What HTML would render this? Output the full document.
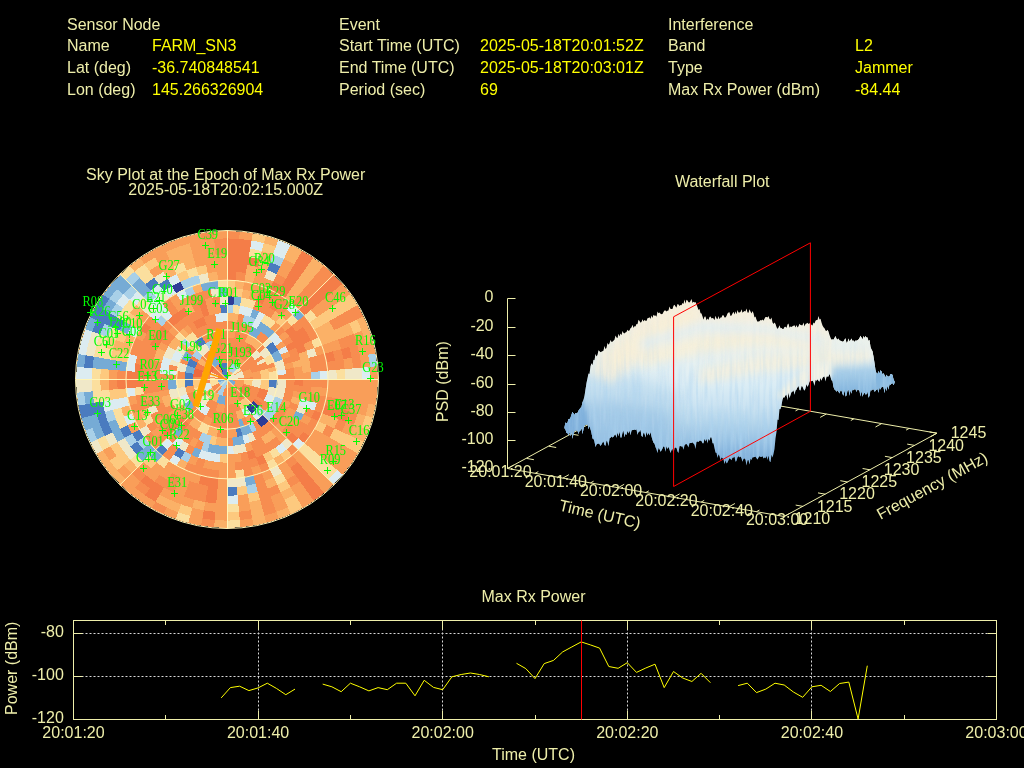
<!DOCTYPE html>
<html><head><meta charset="utf-8"><title>Interference Event</title>
<style>
html,body{margin:0;padding:0;background:#000;width:1024px;height:768px;overflow:hidden}
svg{display:block;position:absolute;left:0;top:0;will-change:transform}
text{font-family:"Liberation Sans",sans-serif;font-size:16px;fill:#eeeeaa}
.v{fill:#ffff00}
.s text{font-family:"Liberation Serif",serif;font-size:12.4px;fill:#00ff00}
</style></head><body>
<svg width="1024" height="768" viewBox="0 0 1024 768">
<rect width="1024" height="768" fill="#000"/>
<text x="67" y="30">Sensor Node</text>
<text x="67" y="51.3">Name</text>
<text x="67" y="72.8">Lat (deg)</text>
<text x="67" y="95.1">Lon (deg)</text>
<text x="152" y="51.3" class="v">FARM_SN3</text>
<text x="152" y="72.8" class="v">-36.740848541</text>
<text x="152" y="95.1" class="v">145.266326904</text>
<text x="339" y="30">Event</text>
<text x="339" y="51.3">Start Time (UTC)</text>
<text x="339" y="72.8">End Time (UTC)</text>
<text x="339" y="95.1">Period (sec)</text>
<text x="480" y="51.3" class="v">2025-05-18T20:01:52Z</text>
<text x="480" y="72.8" class="v">2025-05-18T20:03:01Z</text>
<text x="480" y="95.1" class="v">69</text>
<text x="668" y="30">Interference</text>
<text x="668" y="51.3">Band</text>
<text x="668" y="72.8">Type</text>
<text x="668" y="95.1">Max Rx Power (dBm)</text>
<text x="855" y="51.3" class="v">L2</text>
<text x="855" y="72.8" class="v">Jammer</text>
<text x="855" y="95.1" class="v">-84.44</text>
<text x="225.7" y="179.6" text-anchor="middle">Sky Plot at the Epoch of Max Rx Power</text>
<text x="225.7" y="194.6" text-anchor="middle">2025-05-18T20:02:15.000Z</text>
<text x="722.2" y="186.6" text-anchor="middle">Waterfall Plot</text>
<text x="533.5" y="601.5" text-anchor="middle">Max Rx Power</text>
<g transform="translate(227.0,379.5) scale(1.01678,1)" shape-rendering="crispEdges">
<circle r="148.4" fill="#f99e59"/>
<path d="M-0.31 -148.20 A148.20 148.20 0 0 1 13.23 -147.61 L12.56 -140.16 A140.72 140.72 0 0 0 -0.29 -140.72 Z" fill="#f78d50"/>
<path d="M12.61 -147.66 A148.20 148.20 0 0 1 26.04 -145.89 L24.73 -138.53 A140.72 140.72 0 0 0 11.97 -140.21 Z" fill="#f99e59"/>
<path d="M25.43 -146.00 A148.20 148.20 0 0 1 38.66 -143.07 L36.71 -135.85 A140.72 140.72 0 0 0 24.15 -138.64 Z" fill="#fdc97e"/>
<path d="M38.06 -143.23 A148.20 148.20 0 0 1 50.98 -139.16 L48.41 -132.13 A140.72 140.72 0 0 0 36.14 -136.00 Z" fill="#fbb167"/>
<path d="M50.40 -139.37 A148.20 148.20 0 0 1 62.91 -134.18 L59.74 -127.41 A140.72 140.72 0 0 0 47.85 -132.34 Z" fill="#dcecf1"/>
<path d="M62.35 -134.45 A148.20 148.20 0 0 1 74.37 -128.19 L70.62 -121.72 A140.72 140.72 0 0 0 59.20 -127.66 Z" fill="#fbb167"/>
<path d="M73.83 -128.50 A148.20 148.20 0 0 1 85.26 -121.22 L80.96 -115.10 A140.72 140.72 0 0 0 70.11 -122.02 Z" fill="#f47d48"/>
<path d="M84.75 -121.58 A148.20 148.20 0 0 1 95.50 -113.33 L90.68 -107.61 A140.72 140.72 0 0 0 80.47 -115.44 Z" fill="#fbb167"/>
<path d="M95.02 -113.73 A148.20 148.20 0 0 1 105.01 -104.57 L99.71 -99.30 A140.72 140.72 0 0 0 90.23 -107.99 Z" fill="#f78d50"/>
<path d="M104.57 -105.01 A148.20 148.20 0 0 1 113.73 -95.02 L107.99 -90.23 A140.72 140.72 0 0 0 99.30 -99.71 Z" fill="#f47d48"/>
<path d="M113.33 -95.50 A148.20 148.20 0 0 1 121.58 -84.75 L115.44 -80.47 A140.72 140.72 0 0 0 107.61 -90.68 Z" fill="#f99e59"/>
<path d="M121.22 -85.26 A148.20 148.20 0 0 1 128.50 -73.83 L122.02 -70.11 A140.72 140.72 0 0 0 115.10 -80.96 Z" fill="#fdc97e"/>
<path d="M128.19 -74.37 A148.20 148.20 0 0 1 134.45 -62.35 L127.66 -59.20 A140.72 140.72 0 0 0 121.72 -70.62 Z" fill="#f78d50"/>
<path d="M134.18 -62.91 A148.20 148.20 0 0 1 143.23 -38.06 L136.00 -36.14 A140.72 140.72 0 0 0 127.41 -59.74 Z" fill="#fbb167"/>
<path d="M143.07 -38.66 A148.20 148.20 0 0 1 146.00 -25.43 L138.64 -24.15 A140.72 140.72 0 0 0 135.85 -36.71 Z" fill="#f99e59"/>
<path d="M145.89 -26.04 A148.20 148.20 0 0 1 147.66 -12.61 L140.21 -11.97 A140.72 140.72 0 0 0 138.53 -24.73 Z" fill="#a8d0e8"/>
<path d="M147.61 -13.23 A148.20 148.20 0 0 1 145.89 26.04 L138.53 24.73 A140.72 140.72 0 0 0 140.16 -12.56 Z" fill="#f99e59"/>
<path d="M146.00 25.43 A148.20 148.20 0 0 1 143.07 38.66 L135.85 36.71 A140.72 140.72 0 0 0 138.64 24.15 Z" fill="#fbb167"/>
<path d="M143.23 38.06 A148.20 148.20 0 0 1 139.16 50.98 L132.13 48.41 A140.72 140.72 0 0 0 136.00 36.14 Z" fill="#fdc97e"/>
<path d="M139.37 50.40 A148.20 148.20 0 0 1 134.18 62.91 L127.41 59.74 A140.72 140.72 0 0 0 132.34 47.85 Z" fill="#fbb167"/>
<path d="M134.45 62.35 A148.20 148.20 0 0 1 128.19 74.37 L121.72 70.62 A140.72 140.72 0 0 0 127.66 59.20 Z" fill="#fdc97e"/>
<path d="M128.50 73.83 A148.20 148.20 0 0 1 113.33 95.50 L107.61 90.68 A140.72 140.72 0 0 0 122.02 70.11 Z" fill="#f99e59"/>
<path d="M113.73 95.02 A148.20 148.20 0 0 1 104.57 105.01 L99.30 99.71 A140.72 140.72 0 0 0 107.99 90.23 Z" fill="#dcecf1"/>
<path d="M105.01 104.57 A148.20 148.20 0 0 1 95.02 113.73 L90.23 107.99 A140.72 140.72 0 0 0 99.71 99.30 Z" fill="#f99e59"/>
<path d="M95.50 113.33 A148.20 148.20 0 0 1 84.75 121.58 L80.47 115.44 A140.72 140.72 0 0 0 90.68 107.61 Z" fill="#f47d48"/>
<path d="M85.26 121.22 A148.20 148.20 0 0 1 73.83 128.50 L70.11 122.02 A140.72 140.72 0 0 0 80.96 115.10 Z" fill="#f99e59"/>
<path d="M74.37 128.19 A148.20 148.20 0 0 1 62.35 134.45 L59.20 127.66 A140.72 140.72 0 0 0 70.62 121.72 Z" fill="#fdc97e"/>
<path d="M62.91 134.18 A148.20 148.20 0 0 1 50.40 139.37 L47.85 132.34 A140.72 140.72 0 0 0 59.74 127.41 Z" fill="#fbb167"/>
<path d="M50.98 139.16 A148.20 148.20 0 0 1 38.06 143.23 L36.14 136.00 A140.72 140.72 0 0 0 48.41 132.13 Z" fill="#f99e59"/>
<path d="M38.66 143.07 A148.20 148.20 0 0 1 25.43 146.00 L24.15 138.64 A140.72 140.72 0 0 0 36.71 135.85 Z" fill="#fbb167"/>
<path d="M26.04 145.89 A148.20 148.20 0 0 1 12.61 147.66 L11.97 140.21 A140.72 140.72 0 0 0 24.73 138.53 Z" fill="#f99e59"/>
<path d="M13.23 147.61 A148.20 148.20 0 0 1 -0.31 148.20 L-0.29 140.72 A140.72 140.72 0 0 0 12.56 140.16 Z" fill="#fbdf9e"/>
<path d="M0.31 148.20 A148.20 148.20 0 0 1 -13.23 147.61 L-12.56 140.16 A140.72 140.72 0 0 0 0.29 140.72 Z" fill="#fbb167"/>
<path d="M-12.61 147.66 A148.20 148.20 0 0 1 -26.04 145.89 L-24.73 138.53 A140.72 140.72 0 0 0 -11.97 140.21 Z" fill="#f78d50"/>
<path d="M-25.43 146.00 A148.20 148.20 0 0 1 -38.66 143.07 L-36.71 135.85 A140.72 140.72 0 0 0 -24.15 138.64 Z" fill="#f99e59"/>
<path d="M-38.06 143.23 A148.20 148.20 0 0 1 -50.98 139.16 L-48.41 132.13 A140.72 140.72 0 0 0 -36.14 136.00 Z" fill="#fbdf9e"/>
<path d="M-50.40 139.37 A148.20 148.20 0 0 1 -62.91 134.18 L-59.74 127.41 A140.72 140.72 0 0 0 -47.85 132.34 Z" fill="#f99e59"/>
<path d="M-62.35 134.45 A148.20 148.20 0 0 1 -74.37 128.19 L-70.62 121.72 A140.72 140.72 0 0 0 -59.20 127.66 Z" fill="#f78d50"/>
<path d="M-73.83 128.50 A148.20 148.20 0 0 1 -105.01 104.57 L-99.71 99.30 A140.72 140.72 0 0 0 -70.11 122.02 Z" fill="#f99e59"/>
<path d="M-104.57 105.01 A148.20 148.20 0 0 1 -128.50 73.83 L-122.02 70.11 A140.72 140.72 0 0 0 -99.30 99.71 Z" fill="#fbb167"/>
<path d="M-128.19 74.37 A148.20 148.20 0 0 1 -134.45 62.35 L-127.66 59.20 A140.72 140.72 0 0 0 -121.72 70.62 Z" fill="#f0e8c8"/>
<path d="M-134.18 62.91 A148.20 148.20 0 0 1 -139.37 50.40 L-132.34 47.85 A140.72 140.72 0 0 0 -127.41 59.74 Z" fill="#a8d0e8"/>
<path d="M-139.16 50.98 A148.20 148.20 0 0 1 -143.23 38.06 L-136.00 36.14 A140.72 140.72 0 0 0 -132.13 48.41 Z" fill="#76abd5"/>
<path d="M-143.07 38.66 A148.20 148.20 0 0 1 -146.00 25.43 L-138.64 24.15 A140.72 140.72 0 0 0 -135.85 36.71 Z" fill="#4a7bbf"/>
<path d="M-145.89 26.04 A148.20 148.20 0 0 1 -147.66 12.61 L-140.21 11.97 A140.72 140.72 0 0 0 -138.53 24.73 Z" fill="#a8d0e8"/>
<path d="M-147.61 13.23 A148.20 148.20 0 0 1 -148.20 -0.31 L-140.72 -0.29 A140.72 140.72 0 0 0 -140.16 12.56 Z" fill="#f0e8c8"/>
<path d="M-148.20 0.31 A148.20 148.20 0 0 1 -147.61 -13.23 L-140.16 -12.56 A140.72 140.72 0 0 0 -140.72 0.29 Z" fill="#dcecf1"/>
<path d="M-147.66 -12.61 A148.20 148.20 0 0 1 -145.89 -26.04 L-138.53 -24.73 A140.72 140.72 0 0 0 -140.21 -11.97 Z" fill="#76abd5"/>
<path d="M-146.00 -25.43 A148.20 148.20 0 0 1 -139.16 -50.98 L-132.13 -48.41 A140.72 140.72 0 0 0 -138.64 -24.15 Z" fill="#dcecf1"/>
<path d="M-139.37 -50.40 A148.20 148.20 0 0 1 -134.18 -62.91 L-127.41 -59.74 A140.72 140.72 0 0 0 -132.34 -47.85 Z" fill="#76abd5"/>
<path d="M-134.45 -62.35 A148.20 148.20 0 0 1 -121.22 -85.26 L-115.10 -80.96 A140.72 140.72 0 0 0 -127.66 -59.20 Z" fill="#4a7bbf"/>
<path d="M-121.58 -84.75 A148.20 148.20 0 0 1 -104.57 -105.01 L-99.30 -99.71 A140.72 140.72 0 0 0 -115.44 -80.47 Z" fill="#76abd5"/>
<path d="M-105.01 -104.57 A148.20 148.20 0 0 1 -95.02 -113.73 L-90.23 -107.99 A140.72 140.72 0 0 0 -99.71 -99.30 Z" fill="#fbdf9e"/>
<path d="M-95.50 -113.33 A148.20 148.20 0 0 1 -84.75 -121.58 L-80.47 -115.44 A140.72 140.72 0 0 0 -90.68 -107.61 Z" fill="#fbb167"/>
<path d="M-85.26 -121.22 A148.20 148.20 0 0 1 -25.43 -146.00 L-24.15 -138.64 A140.72 140.72 0 0 0 -80.96 -115.10 Z" fill="#f99e59"/>
<path d="M-26.04 -145.89 A148.20 148.20 0 0 1 -12.61 -147.66 L-11.97 -140.21 A140.72 140.72 0 0 0 -24.73 -138.53 Z" fill="#f78d50"/>
<path d="M-13.23 -147.61 A148.20 148.20 0 0 1 0.31 -148.20 L0.29 -140.72 A140.72 140.72 0 0 0 -12.56 -140.16 Z" fill="#f99e59"/>
<path d="M-0.30 -141.07 A141.07 141.07 0 0 1 24.79 -138.88 L23.27 -130.38 A132.44 132.44 0 0 0 -0.28 -132.44 Z" fill="#f47d48"/>
<path d="M24.21 -138.98 A141.07 141.07 0 0 1 36.80 -136.19 L34.55 -127.86 A132.44 132.44 0 0 0 22.73 -130.48 Z" fill="#dcecf1"/>
<path d="M36.23 -136.34 A141.07 141.07 0 0 1 48.53 -132.46 L45.56 -124.36 A132.44 132.44 0 0 0 34.01 -128.00 Z" fill="#fdc97e"/>
<path d="M47.97 -132.67 A141.07 141.07 0 0 1 59.89 -127.73 L56.22 -119.92 A132.44 132.44 0 0 0 45.04 -124.55 Z" fill="#dcecf1"/>
<path d="M59.35 -127.98 A141.07 141.07 0 0 1 70.79 -122.02 L66.46 -114.56 A132.44 132.44 0 0 0 55.72 -120.15 Z" fill="#fbb167"/>
<path d="M70.28 -122.32 A141.07 141.07 0 0 1 81.16 -115.39 L76.19 -108.33 A132.44 132.44 0 0 0 65.98 -114.84 Z" fill="#f47d48"/>
<path d="M80.67 -115.73 A141.07 141.07 0 0 1 90.91 -107.88 L85.35 -101.28 A132.44 132.44 0 0 0 75.74 -108.65 Z" fill="#fbb167"/>
<path d="M90.45 -108.26 A141.07 141.07 0 0 1 99.96 -99.54 L93.85 -93.46 A132.44 132.44 0 0 0 84.92 -101.64 Z" fill="#f78d50"/>
<path d="M99.54 -99.96 A141.07 141.07 0 0 1 108.26 -90.45 L101.64 -84.92 A132.44 132.44 0 0 0 93.46 -93.85 Z" fill="#f47d48"/>
<path d="M107.88 -90.91 A141.07 141.07 0 0 1 115.73 -80.67 L108.65 -75.74 A132.44 132.44 0 0 0 101.28 -85.35 Z" fill="#f99e59"/>
<path d="M115.39 -81.16 A141.07 141.07 0 0 1 122.32 -70.28 L114.84 -65.98 A132.44 132.44 0 0 0 108.33 -76.19 Z" fill="#fdc97e"/>
<path d="M122.02 -70.79 A141.07 141.07 0 0 1 127.98 -59.35 L120.15 -55.72 A132.44 132.44 0 0 0 114.56 -66.46 Z" fill="#f78d50"/>
<path d="M127.73 -59.89 A141.07 141.07 0 0 1 132.67 -47.97 L124.55 -45.04 A132.44 132.44 0 0 0 119.92 -56.22 Z" fill="#fdc97e"/>
<path d="M132.46 -48.53 A141.07 141.07 0 0 1 140.56 -12.00 L131.96 -11.27 A132.44 132.44 0 0 0 124.36 -45.56 Z" fill="#f99e59"/>
<path d="M140.51 -12.59 A141.07 141.07 0 0 1 141.07 0.30 L132.44 0.28 A132.44 132.44 0 0 0 131.92 -11.82 Z" fill="#dcecf1"/>
<path d="M141.07 -0.30 A141.07 141.07 0 0 1 136.19 36.80 L127.86 34.55 A132.44 132.44 0 0 0 132.44 -0.28 Z" fill="#f99e59"/>
<path d="M136.34 36.23 A141.07 141.07 0 0 1 127.73 59.89 L119.92 56.22 A132.44 132.44 0 0 0 128.00 34.01 Z" fill="#fbb167"/>
<path d="M127.98 59.35 A141.07 141.07 0 0 1 122.02 70.79 L114.56 66.46 A132.44 132.44 0 0 0 120.15 55.72 Z" fill="#fdc97e"/>
<path d="M122.32 70.28 A141.07 141.07 0 0 1 107.88 90.91 L101.28 85.35 A132.44 132.44 0 0 0 114.84 65.98 Z" fill="#f99e59"/>
<path d="M108.26 90.45 A141.07 141.07 0 0 1 99.54 99.96 L93.46 93.85 A132.44 132.44 0 0 0 101.64 84.92 Z" fill="#fbdf9e"/>
<path d="M99.96 99.54 A141.07 141.07 0 0 1 90.45 108.26 L84.92 101.64 A132.44 132.44 0 0 0 93.85 93.46 Z" fill="#f99e59"/>
<path d="M90.91 107.88 A141.07 141.07 0 0 1 80.67 115.73 L75.74 108.65 A132.44 132.44 0 0 0 85.35 101.28 Z" fill="#f47d48"/>
<path d="M81.16 115.39 A141.07 141.07 0 0 1 70.28 122.32 L65.98 114.84 A132.44 132.44 0 0 0 76.19 108.33 Z" fill="#f99e59"/>
<path d="M70.79 122.02 A141.07 141.07 0 0 1 59.35 127.98 L55.72 120.15 A132.44 132.44 0 0 0 66.46 114.56 Z" fill="#fdc97e"/>
<path d="M59.89 127.73 A141.07 141.07 0 0 1 47.97 132.67 L45.04 124.55 A132.44 132.44 0 0 0 56.22 119.92 Z" fill="#f99e59"/>
<path d="M48.53 132.46 A141.07 141.07 0 0 1 36.23 136.34 L34.01 128.00 A132.44 132.44 0 0 0 45.56 124.36 Z" fill="#f78d50"/>
<path d="M36.80 136.19 A141.07 141.07 0 0 1 24.21 138.98 L22.73 130.48 A132.44 132.44 0 0 0 34.55 127.86 Z" fill="#fbb167"/>
<path d="M24.79 138.88 A141.07 141.07 0 0 1 12.00 140.56 L11.27 131.96 A132.44 132.44 0 0 0 23.27 130.38 Z" fill="#f78d50"/>
<path d="M12.59 140.51 A141.07 141.07 0 0 1 -0.30 141.07 L-0.28 132.44 A132.44 132.44 0 0 0 11.82 131.92 Z" fill="#fdc97e"/>
<path d="M0.30 141.07 A141.07 141.07 0 0 1 -12.59 140.51 L-11.82 131.92 A132.44 132.44 0 0 0 0.28 132.44 Z" fill="#f99e59"/>
<path d="M-12.00 140.56 A141.07 141.07 0 0 1 -24.79 138.88 L-23.27 130.38 A132.44 132.44 0 0 0 -11.27 131.96 Z" fill="#f47d48"/>
<path d="M-24.21 138.98 A141.07 141.07 0 0 1 -36.80 136.19 L-34.55 127.86 A132.44 132.44 0 0 0 -22.73 130.48 Z" fill="#f99e59"/>
<path d="M-36.23 136.34 A141.07 141.07 0 0 1 -48.53 132.46 L-45.56 124.36 A132.44 132.44 0 0 0 -34.01 128.00 Z" fill="#fdc97e"/>
<path d="M-47.97 132.67 A141.07 141.07 0 0 1 -70.79 122.02 L-66.46 114.56 A132.44 132.44 0 0 0 -45.04 124.55 Z" fill="#fbb167"/>
<path d="M-70.28 122.32 A141.07 141.07 0 0 1 -81.16 115.39 L-76.19 108.33 A132.44 132.44 0 0 0 -65.98 114.84 Z" fill="#f47d48"/>
<path d="M-80.67 115.73 A141.07 141.07 0 0 1 -90.91 107.88 L-85.35 101.28 A132.44 132.44 0 0 0 -75.74 108.65 Z" fill="#f78d50"/>
<path d="M-90.45 108.26 A141.07 141.07 0 0 1 -108.26 90.45 L-101.64 84.92 A132.44 132.44 0 0 0 -84.92 101.64 Z" fill="#f99e59"/>
<path d="M-107.88 90.91 A141.07 141.07 0 0 1 -115.73 80.67 L-108.65 75.74 A132.44 132.44 0 0 0 -101.28 85.35 Z" fill="#fdc97e"/>
<path d="M-115.39 81.16 A141.07 141.07 0 0 1 -122.32 70.28 L-114.84 65.98 A132.44 132.44 0 0 0 -108.33 76.19 Z" fill="#f99e59"/>
<path d="M-122.02 70.79 A141.07 141.07 0 0 1 -127.98 59.35 L-120.15 55.72 A132.44 132.44 0 0 0 -114.56 66.46 Z" fill="#fbdf9e"/>
<path d="M-127.73 59.89 A141.07 141.07 0 0 1 -136.34 36.23 L-128.00 34.01 A132.44 132.44 0 0 0 -119.92 56.22 Z" fill="#76abd5"/>
<path d="M-136.19 36.80 A141.07 141.07 0 0 1 -138.98 24.21 L-130.48 22.73 A132.44 132.44 0 0 0 -127.86 34.55 Z" fill="#4a7bbf"/>
<path d="M-138.88 24.79 A141.07 141.07 0 0 1 -140.56 12.00 L-131.96 11.27 A132.44 132.44 0 0 0 -130.38 23.27 Z" fill="#76abd5"/>
<path d="M-140.51 12.59 A141.07 141.07 0 0 1 -141.07 -0.30 L-132.44 -0.28 A132.44 132.44 0 0 0 -131.92 11.82 Z" fill="#f0e8c8"/>
<path d="M-141.07 0.30 A141.07 141.07 0 0 1 -140.51 -12.59 L-131.92 -11.82 A132.44 132.44 0 0 0 -132.44 0.28 Z" fill="#dcecf1"/>
<path d="M-140.56 -12.00 A141.07 141.07 0 0 1 -138.88 -24.79 L-130.38 -23.27 A132.44 132.44 0 0 0 -131.96 -11.27 Z" fill="#4a7bbf"/>
<path d="M-138.98 -24.21 A141.07 141.07 0 0 1 -132.46 -48.53 L-124.36 -45.56 A132.44 132.44 0 0 0 -130.48 -22.73 Z" fill="#f0e8c8"/>
<path d="M-132.67 -47.97 A141.07 141.07 0 0 1 -122.02 -70.79 L-114.56 -66.46 A132.44 132.44 0 0 0 -124.55 -45.04 Z" fill="#4a7bbf"/>
<path d="M-122.32 -70.28 A141.07 141.07 0 0 1 -115.39 -81.16 L-108.33 -76.19 A132.44 132.44 0 0 0 -114.84 -65.98 Z" fill="#76abd5"/>
<path d="M-115.73 -80.67 A141.07 141.07 0 0 1 -107.88 -90.91 L-101.28 -85.35 A132.44 132.44 0 0 0 -108.65 -75.74 Z" fill="#a8d0e8"/>
<path d="M-108.26 -90.45 A141.07 141.07 0 0 1 -99.54 -99.96 L-93.46 -93.85 A132.44 132.44 0 0 0 -101.64 -84.92 Z" fill="#76abd5"/>
<path d="M-99.96 -99.54 A141.07 141.07 0 0 1 -90.45 -108.26 L-84.92 -101.64 A132.44 132.44 0 0 0 -93.85 -93.46 Z" fill="#a8d0e8"/>
<path d="M-90.91 -107.88 A141.07 141.07 0 0 1 -80.67 -115.73 L-75.74 -108.65 A132.44 132.44 0 0 0 -85.35 -101.28 Z" fill="#fbdf9e"/>
<path d="M-81.16 -115.39 A141.07 141.07 0 0 1 -70.28 -122.32 L-65.98 -114.84 A132.44 132.44 0 0 0 -76.19 -108.33 Z" fill="#fdc97e"/>
<path d="M-70.79 -122.02 A141.07 141.07 0 0 1 -59.35 -127.98 L-55.72 -120.15 A132.44 132.44 0 0 0 -66.46 -114.56 Z" fill="#f99e59"/>
<path d="M-59.89 -127.73 A141.07 141.07 0 0 1 -36.23 -136.34 L-34.01 -128.00 A132.44 132.44 0 0 0 -56.22 -119.92 Z" fill="#fbb167"/>
<path d="M-36.80 -136.19 A141.07 141.07 0 0 1 -12.00 -140.56 L-11.27 -131.96 A132.44 132.44 0 0 0 -34.55 -127.86 Z" fill="#f99e59"/>
<path d="M-12.59 -140.51 A141.07 141.07 0 0 1 0.30 -141.07 L0.28 -132.44 A132.44 132.44 0 0 0 -11.82 -131.92 Z" fill="#f78d50"/>
<path d="M-0.28 -132.79 A132.79 132.79 0 0 1 23.33 -130.73 L21.82 -122.23 A124.17 124.17 0 0 0 -0.26 -124.17 Z" fill="#f47d48"/>
<path d="M22.79 -130.83 A132.79 132.79 0 0 1 34.64 -128.20 L32.39 -119.87 A124.17 124.17 0 0 0 21.31 -122.33 Z" fill="#fbdf9e"/>
<path d="M34.10 -128.34 A132.79 132.79 0 0 1 45.68 -124.69 L42.71 -116.59 A124.17 124.17 0 0 0 31.89 -120.00 Z" fill="#fbb167"/>
<path d="M45.16 -124.88 A132.79 132.79 0 0 1 56.37 -120.23 L52.71 -112.42 A124.17 124.17 0 0 0 42.22 -116.77 Z" fill="#a8d0e8"/>
<path d="M55.87 -120.47 A132.79 132.79 0 0 1 66.64 -114.86 L62.31 -107.40 A124.17 124.17 0 0 0 52.24 -112.64 Z" fill="#f99e59"/>
<path d="M66.16 -115.14 A132.79 132.79 0 0 1 76.40 -108.62 L71.43 -101.56 A124.17 124.17 0 0 0 61.86 -107.66 Z" fill="#f47d48"/>
<path d="M75.94 -108.94 A132.79 132.79 0 0 1 85.57 -101.55 L80.01 -94.95 A124.17 124.17 0 0 0 71.01 -101.86 Z" fill="#fbb167"/>
<path d="M85.15 -101.90 A132.79 132.79 0 0 1 94.10 -93.70 L87.98 -87.62 A124.17 124.17 0 0 0 79.61 -95.28 Z" fill="#f78d50"/>
<path d="M93.70 -94.10 A132.79 132.79 0 0 1 101.90 -85.15 L95.28 -79.61 A124.17 124.17 0 0 0 87.62 -87.98 Z" fill="#f47d48"/>
<path d="M101.55 -85.57 A132.79 132.79 0 0 1 108.94 -75.94 L101.86 -71.01 A124.17 124.17 0 0 0 94.95 -80.01 Z" fill="#f99e59"/>
<path d="M108.62 -76.40 A132.79 132.79 0 0 1 115.14 -66.16 L107.66 -61.86 A124.17 124.17 0 0 0 101.56 -71.43 Z" fill="#fdc97e"/>
<path d="M114.86 -66.64 A132.79 132.79 0 0 1 120.47 -55.87 L112.64 -52.24 A124.17 124.17 0 0 0 107.40 -62.31 Z" fill="#f78d50"/>
<path d="M120.23 -56.37 A132.79 132.79 0 0 1 124.88 -45.16 L116.77 -42.22 A124.17 124.17 0 0 0 112.42 -52.71 Z" fill="#fbb167"/>
<path d="M124.69 -45.68 A132.79 132.79 0 0 1 132.31 -11.30 L123.72 -10.56 A124.17 124.17 0 0 0 116.59 -42.71 Z" fill="#f78d50"/>
<path d="M132.26 -11.85 A132.79 132.79 0 0 1 132.79 0.28 L124.17 0.26 A124.17 124.17 0 0 0 123.67 -11.08 Z" fill="#f0e8c8"/>
<path d="M132.79 -0.28 A132.79 132.79 0 0 1 128.20 34.64 L119.87 32.39 A124.17 124.17 0 0 0 124.17 -0.26 Z" fill="#f99e59"/>
<path d="M128.34 34.10 A132.79 132.79 0 0 1 124.69 45.68 L116.59 42.71 A124.17 124.17 0 0 0 120.00 31.89 Z" fill="#f78d50"/>
<path d="M124.88 45.16 A132.79 132.79 0 0 1 120.23 56.37 L112.42 52.71 A124.17 124.17 0 0 0 116.77 42.22 Z" fill="#f99e59"/>
<path d="M120.47 55.87 A132.79 132.79 0 0 1 114.86 66.64 L107.40 62.31 A124.17 124.17 0 0 0 112.64 52.24 Z" fill="#fdc97e"/>
<path d="M115.14 66.16 A132.79 132.79 0 0 1 101.55 85.57 L94.95 80.01 A124.17 124.17 0 0 0 107.66 61.86 Z" fill="#f99e59"/>
<path d="M101.90 85.15 A132.79 132.79 0 0 1 93.70 94.10 L87.62 87.98 A124.17 124.17 0 0 0 95.28 79.61 Z" fill="#fbdf9e"/>
<path d="M94.10 93.70 A132.79 132.79 0 0 1 85.15 101.90 L79.61 95.28 A124.17 124.17 0 0 0 87.98 87.62 Z" fill="#f99e59"/>
<path d="M85.57 101.55 A132.79 132.79 0 0 1 75.94 108.94 L71.01 101.86 A124.17 124.17 0 0 0 80.01 94.95 Z" fill="#f47d48"/>
<path d="M76.40 108.62 A132.79 132.79 0 0 1 66.16 115.14 L61.86 107.66 A124.17 124.17 0 0 0 71.43 101.56 Z" fill="#f99e59"/>
<path d="M66.64 114.86 A132.79 132.79 0 0 1 55.87 120.47 L52.24 112.64 A124.17 124.17 0 0 0 62.31 107.40 Z" fill="#fbb167"/>
<path d="M56.37 120.23 A132.79 132.79 0 0 1 45.16 124.88 L42.22 116.77 A124.17 124.17 0 0 0 52.71 112.42 Z" fill="#f99e59"/>
<path d="M45.68 124.69 A132.79 132.79 0 0 1 34.10 128.34 L31.89 120.00 A124.17 124.17 0 0 0 42.71 116.59 Z" fill="#f78d50"/>
<path d="M34.64 128.20 A132.79 132.79 0 0 1 22.79 130.83 L21.31 122.33 A124.17 124.17 0 0 0 32.39 119.87 Z" fill="#fbb167"/>
<path d="M23.33 130.73 A132.79 132.79 0 0 1 11.30 132.31 L10.56 123.72 A124.17 124.17 0 0 0 21.82 122.23 Z" fill="#f99e59"/>
<path d="M11.85 132.26 A132.79 132.79 0 0 1 -0.28 132.79 L-0.26 124.17 A124.17 124.17 0 0 0 11.08 123.67 Z" fill="#fbdf9e"/>
<path d="M0.28 132.79 A132.79 132.79 0 0 1 -23.33 130.73 L-21.82 122.23 A124.17 124.17 0 0 0 0.26 124.17 Z" fill="#f99e59"/>
<path d="M-22.79 130.83 A132.79 132.79 0 0 1 -34.64 128.20 L-32.39 119.87 A124.17 124.17 0 0 0 -21.31 122.33 Z" fill="#fbb167"/>
<path d="M-34.10 128.34 A132.79 132.79 0 0 1 -66.64 114.86 L-62.31 107.40 A124.17 124.17 0 0 0 -31.89 120.00 Z" fill="#f99e59"/>
<path d="M-66.16 115.14 A132.79 132.79 0 0 1 -85.57 101.55 L-80.01 94.95 A124.17 124.17 0 0 0 -61.86 107.66 Z" fill="#f47d48"/>
<path d="M-85.15 101.90 A132.79 132.79 0 0 1 -94.10 93.70 L-87.98 87.62 A124.17 124.17 0 0 0 -79.61 95.28 Z" fill="#f78d50"/>
<path d="M-93.70 94.10 A132.79 132.79 0 0 1 -101.90 85.15 L-95.28 79.61 A124.17 124.17 0 0 0 -87.62 87.98 Z" fill="#fbb167"/>
<path d="M-101.55 85.57 A132.79 132.79 0 0 1 -115.14 66.16 L-107.66 61.86 A124.17 124.17 0 0 0 -94.95 80.01 Z" fill="#fdc97e"/>
<path d="M-114.86 66.64 A132.79 132.79 0 0 1 -120.47 55.87 L-112.64 52.24 A124.17 124.17 0 0 0 -107.40 62.31 Z" fill="#f0e8c8"/>
<path d="M-120.23 56.37 A132.79 132.79 0 0 1 -130.83 22.79 L-122.33 21.31 A124.17 124.17 0 0 0 -112.42 52.71 Z" fill="#4a7bbf"/>
<path d="M-130.73 23.33 A132.79 132.79 0 0 1 -132.26 -11.85 L-123.67 -11.08 A124.17 124.17 0 0 0 -122.23 21.82 Z" fill="#fbdf9e"/>
<path d="M-132.31 -11.30 A132.79 132.79 0 0 1 -130.73 -23.33 L-122.23 -21.82 A124.17 124.17 0 0 0 -123.72 -10.56 Z" fill="#76abd5"/>
<path d="M-130.83 -22.79 A132.79 132.79 0 0 1 -124.69 -45.68 L-116.59 -42.71 A124.17 124.17 0 0 0 -122.33 -21.31 Z" fill="#fbdf9e"/>
<path d="M-124.88 -45.16 A132.79 132.79 0 0 1 -120.23 -56.37 L-112.42 -52.71 A124.17 124.17 0 0 0 -116.77 -42.22 Z" fill="#a8d0e8"/>
<path d="M-120.47 -55.87 A132.79 132.79 0 0 1 -114.86 -66.64 L-107.40 -62.31 A124.17 124.17 0 0 0 -112.64 -52.24 Z" fill="#4a7bbf"/>
<path d="M-115.14 -66.16 A132.79 132.79 0 0 1 -108.62 -76.40 L-101.56 -71.43 A124.17 124.17 0 0 0 -107.66 -61.86 Z" fill="#a8d0e8"/>
<path d="M-108.94 -75.94 A132.79 132.79 0 0 1 -101.55 -85.57 L-94.95 -80.01 A124.17 124.17 0 0 0 -101.86 -71.01 Z" fill="#dcecf1"/>
<path d="M-101.90 -85.15 A132.79 132.79 0 0 1 -93.70 -94.10 L-87.62 -87.98 A124.17 124.17 0 0 0 -95.28 -79.61 Z" fill="#a8d0e8"/>
<path d="M-94.10 -93.70 A132.79 132.79 0 0 1 -85.15 -101.90 L-79.61 -95.28 A124.17 124.17 0 0 0 -87.98 -87.62 Z" fill="#76abd5"/>
<path d="M-85.57 -101.55 A132.79 132.79 0 0 1 -75.94 -108.94 L-71.01 -101.86 A124.17 124.17 0 0 0 -80.01 -94.95 Z" fill="#fbdf9e"/>
<path d="M-76.40 -108.62 A132.79 132.79 0 0 1 -66.16 -115.14 L-61.86 -107.66 A124.17 124.17 0 0 0 -71.43 -101.56 Z" fill="#f99e59"/>
<path d="M-66.64 -114.86 A132.79 132.79 0 0 1 -34.10 -128.34 L-31.89 -120.00 A124.17 124.17 0 0 0 -62.31 -107.40 Z" fill="#fbb167"/>
<path d="M-34.64 -128.20 A132.79 132.79 0 0 1 -11.30 -132.31 L-10.56 -123.72 A124.17 124.17 0 0 0 -32.39 -119.87 Z" fill="#f99e59"/>
<path d="M-11.85 -132.26 A132.79 132.79 0 0 1 0.28 -132.79 L0.26 -124.17 A124.17 124.17 0 0 0 -11.08 -123.67 Z" fill="#f78d50"/>
<path d="M-0.26 -124.52 A124.52 124.52 0 0 1 32.48 -120.21 L30.23 -111.88 A115.89 115.89 0 0 0 -0.24 -115.89 Z" fill="#f47d48"/>
<path d="M31.98 -120.34 A124.52 124.52 0 0 1 42.83 -116.92 L39.86 -108.82 A115.89 115.89 0 0 0 29.76 -112.00 Z" fill="#fbb167"/>
<path d="M42.34 -117.10 A124.52 124.52 0 0 1 52.86 -112.74 L49.20 -104.93 A115.89 115.89 0 0 0 39.41 -108.98 Z" fill="#4a7bbf"/>
<path d="M52.39 -112.96 A124.52 124.52 0 0 1 62.48 -107.70 L58.15 -100.24 A115.89 115.89 0 0 0 48.76 -105.13 Z" fill="#f99e59"/>
<path d="M62.03 -107.96 A124.52 124.52 0 0 1 71.63 -101.85 L66.67 -94.79 A115.89 115.89 0 0 0 57.73 -100.48 Z" fill="#f47d48"/>
<path d="M71.21 -102.15 A124.52 124.52 0 0 1 80.24 -95.22 L74.68 -88.62 A115.89 115.89 0 0 0 66.27 -95.07 Z" fill="#fbb167"/>
<path d="M79.84 -95.55 A124.52 124.52 0 0 1 88.23 -87.86 L82.12 -81.77 A115.89 115.89 0 0 0 74.31 -88.93 Z" fill="#f78d50"/>
<path d="M87.86 -88.23 A124.52 124.52 0 0 1 95.55 -79.84 L88.93 -74.31 A115.89 115.89 0 0 0 81.77 -82.12 Z" fill="#f47d48"/>
<path d="M95.22 -80.24 A124.52 124.52 0 0 1 102.15 -71.21 L95.07 -66.27 A115.89 115.89 0 0 0 88.62 -74.68 Z" fill="#f99e59"/>
<path d="M101.85 -71.63 A124.52 124.52 0 0 1 107.96 -62.03 L100.48 -57.73 A115.89 115.89 0 0 0 94.79 -66.67 Z" fill="#fdc97e"/>
<path d="M107.70 -62.48 A124.52 124.52 0 0 1 112.96 -52.39 L105.13 -48.76 A115.89 115.89 0 0 0 100.24 -58.15 Z" fill="#f78d50"/>
<path d="M112.74 -52.86 A124.52 124.52 0 0 1 117.10 -42.34 L108.98 -39.41 A115.89 115.89 0 0 0 104.93 -49.20 Z" fill="#fbb167"/>
<path d="M116.92 -42.83 A124.52 124.52 0 0 1 120.34 -31.98 L112.00 -29.76 A115.89 115.89 0 0 0 108.82 -39.86 Z" fill="#f78d50"/>
<path d="M120.21 -32.48 A124.52 124.52 0 0 1 122.67 -21.37 L114.17 -19.88 A115.89 115.89 0 0 0 111.88 -30.23 Z" fill="#f47d48"/>
<path d="M122.58 -21.88 A124.52 124.52 0 0 1 124.07 -10.59 L115.47 -9.86 A115.89 115.89 0 0 0 114.09 -20.36 Z" fill="#f99e59"/>
<path d="M124.02 -11.11 A124.52 124.52 0 0 1 124.52 0.26 L115.89 0.24 A115.89 115.89 0 0 0 115.43 -10.34 Z" fill="#f0e8c8"/>
<path d="M124.52 -0.26 A124.52 124.52 0 0 1 122.58 21.88 L114.09 20.36 A115.89 115.89 0 0 0 115.89 -0.24 Z" fill="#f99e59"/>
<path d="M122.67 21.37 A124.52 124.52 0 0 1 120.21 32.48 L111.88 30.23 A115.89 115.89 0 0 0 114.17 19.88 Z" fill="#f78d50"/>
<path d="M120.34 31.98 A124.52 124.52 0 0 1 116.92 42.83 L108.82 39.86 A115.89 115.89 0 0 0 112.00 29.76 Z" fill="#f47d48"/>
<path d="M117.10 42.34 A124.52 124.52 0 0 1 112.74 52.86 L104.93 49.20 A115.89 115.89 0 0 0 108.98 39.41 Z" fill="#f78d50"/>
<path d="M112.96 52.39 A124.52 124.52 0 0 1 107.70 62.48 L100.24 58.15 A115.89 115.89 0 0 0 105.13 48.76 Z" fill="#fdc97e"/>
<path d="M107.96 62.03 A124.52 124.52 0 0 1 95.22 80.24 L88.62 74.68 A115.89 115.89 0 0 0 100.48 57.73 Z" fill="#f99e59"/>
<path d="M95.55 79.84 A124.52 124.52 0 0 1 87.86 88.23 L81.77 82.12 A115.89 115.89 0 0 0 88.93 74.31 Z" fill="#fbdf9e"/>
<path d="M88.23 87.86 A124.52 124.52 0 0 1 79.84 95.55 L74.31 88.93 A115.89 115.89 0 0 0 82.12 81.77 Z" fill="#f99e59"/>
<path d="M80.24 95.22 A124.52 124.52 0 0 1 71.21 102.15 L66.27 95.07 A115.89 115.89 0 0 0 74.68 88.62 Z" fill="#f47d48"/>
<path d="M71.63 101.85 A124.52 124.52 0 0 1 62.03 107.96 L57.73 100.48 A115.89 115.89 0 0 0 66.67 94.79 Z" fill="#f78d50"/>
<path d="M62.48 107.70 A124.52 124.52 0 0 1 52.39 112.96 L48.76 105.13 A115.89 115.89 0 0 0 58.15 100.24 Z" fill="#fdc97e"/>
<path d="M52.86 112.74 A124.52 124.52 0 0 1 31.98 120.34 L29.76 112.00 A115.89 115.89 0 0 0 49.20 104.93 Z" fill="#f78d50"/>
<path d="M32.48 120.21 A124.52 124.52 0 0 1 21.37 122.67 L19.88 114.17 A115.89 115.89 0 0 0 30.23 111.88 Z" fill="#fdc97e"/>
<path d="M21.88 122.58 A124.52 124.52 0 0 1 10.59 124.07 L9.86 115.47 A115.89 115.89 0 0 0 20.36 114.09 Z" fill="#f99e59"/>
<path d="M11.11 124.02 A124.52 124.52 0 0 1 -0.26 124.52 L-0.24 115.89 A115.89 115.89 0 0 0 10.34 115.43 Z" fill="#dcecf1"/>
<path d="M0.26 124.52 A124.52 124.52 0 0 1 -11.11 124.02 L-10.34 115.43 A115.89 115.89 0 0 0 0.24 115.89 Z" fill="#f99e59"/>
<path d="M-10.59 124.07 A124.52 124.52 0 0 1 -21.88 122.58 L-20.36 114.09 A115.89 115.89 0 0 0 -9.86 115.47 Z" fill="#f47d48"/>
<path d="M-21.37 122.67 A124.52 124.52 0 0 1 -42.83 116.92 L-39.86 108.82 A115.89 115.89 0 0 0 -19.88 114.17 Z" fill="#f78d50"/>
<path d="M-42.34 117.10 A124.52 124.52 0 0 1 -52.86 112.74 L-49.20 104.93 A115.89 115.89 0 0 0 -39.41 108.98 Z" fill="#f99e59"/>
<path d="M-52.39 112.96 A124.52 124.52 0 0 1 -71.63 101.85 L-66.67 94.79 A115.89 115.89 0 0 0 -48.76 105.13 Z" fill="#f78d50"/>
<path d="M-71.21 102.15 A124.52 124.52 0 0 1 -88.23 87.86 L-82.12 81.77 A115.89 115.89 0 0 0 -66.27 95.07 Z" fill="#f99e59"/>
<path d="M-87.86 88.23 A124.52 124.52 0 0 1 -95.55 79.84 L-88.93 74.31 A115.89 115.89 0 0 0 -81.77 82.12 Z" fill="#fbdf9e"/>
<path d="M-95.22 80.24 A124.52 124.52 0 0 1 -107.96 62.03 L-100.48 57.73 A115.89 115.89 0 0 0 -88.62 74.68 Z" fill="#f0e8c8"/>
<path d="M-107.70 62.48 A124.52 124.52 0 0 1 -117.10 42.34 L-108.98 39.41 A115.89 115.89 0 0 0 -100.24 58.15 Z" fill="#76abd5"/>
<path d="M-116.92 42.83 A124.52 124.52 0 0 1 -120.34 31.98 L-112.00 29.76 A115.89 115.89 0 0 0 -108.82 39.86 Z" fill="#a8d0e8"/>
<path d="M-120.21 32.48 A124.52 124.52 0 0 1 -122.67 21.37 L-114.17 19.88 A115.89 115.89 0 0 0 -111.88 30.23 Z" fill="#dcecf1"/>
<path d="M-122.58 21.88 A124.52 124.52 0 0 1 -124.07 10.59 L-115.47 9.86 A115.89 115.89 0 0 0 -114.09 20.36 Z" fill="#fbdf9e"/>
<path d="M-124.02 11.11 A124.52 124.52 0 0 1 -124.52 -0.26 L-115.89 -0.24 A115.89 115.89 0 0 0 -115.43 10.34 Z" fill="#fbb167"/>
<path d="M-124.52 0.26 A124.52 124.52 0 0 1 -124.02 -11.11 L-115.43 -10.34 A115.89 115.89 0 0 0 -115.89 0.24 Z" fill="#fdc97e"/>
<path d="M-124.07 -10.59 A124.52 124.52 0 0 1 -122.58 -21.88 L-114.09 -20.36 A115.89 115.89 0 0 0 -115.47 -9.86 Z" fill="#76abd5"/>
<path d="M-122.67 -21.37 A124.52 124.52 0 0 1 -120.21 -32.48 L-111.88 -30.23 A115.89 115.89 0 0 0 -114.17 -19.88 Z" fill="#fbdf9e"/>
<path d="M-120.34 -31.98 A124.52 124.52 0 0 1 -116.92 -42.83 L-108.82 -39.86 A115.89 115.89 0 0 0 -112.00 -29.76 Z" fill="#fdc97e"/>
<path d="M-117.10 -42.34 A124.52 124.52 0 0 1 -112.74 -52.86 L-104.93 -49.20 A115.89 115.89 0 0 0 -108.98 -39.41 Z" fill="#fbdf9e"/>
<path d="M-112.96 -52.39 A124.52 124.52 0 0 1 -107.70 -62.48 L-100.24 -58.15 A115.89 115.89 0 0 0 -105.13 -48.76 Z" fill="#4a7bbf"/>
<path d="M-107.96 -62.03 A124.52 124.52 0 0 1 -95.22 -80.24 L-88.62 -74.68 A115.89 115.89 0 0 0 -100.48 -57.73 Z" fill="#fbdf9e"/>
<path d="M-95.55 -79.84 A124.52 124.52 0 0 1 -87.86 -88.23 L-81.77 -82.12 A115.89 115.89 0 0 0 -88.93 -74.31 Z" fill="#dcecf1"/>
<path d="M-88.23 -87.86 A124.52 124.52 0 0 1 -79.84 -95.55 L-74.31 -88.93 A115.89 115.89 0 0 0 -82.12 -81.77 Z" fill="#76abd5"/>
<path d="M-80.24 -95.22 A124.52 124.52 0 0 1 -71.21 -102.15 L-66.27 -95.07 A115.89 115.89 0 0 0 -74.68 -88.62 Z" fill="#4a7bbf"/>
<path d="M-71.63 -101.85 A124.52 124.52 0 0 1 -62.03 -107.96 L-57.73 -100.48 A115.89 115.89 0 0 0 -66.67 -94.79 Z" fill="#f0e8c8"/>
<path d="M-62.48 -107.70 A124.52 124.52 0 0 1 -52.39 -112.96 L-48.76 -105.13 A115.89 115.89 0 0 0 -58.15 -100.24 Z" fill="#fbb167"/>
<path d="M-52.86 -112.74 A124.52 124.52 0 0 1 -42.34 -117.10 L-39.41 -108.98 A115.89 115.89 0 0 0 -49.20 -104.93 Z" fill="#fbdf9e"/>
<path d="M-42.83 -116.92 A124.52 124.52 0 0 1 -31.98 -120.34 L-29.76 -112.00 A115.89 115.89 0 0 0 -39.86 -108.82 Z" fill="#fbb167"/>
<path d="M-32.48 -120.21 A124.52 124.52 0 0 1 0.26 -124.52 L0.24 -115.89 A115.89 115.89 0 0 0 -30.23 -111.88 Z" fill="#f99e59"/>
<path d="M-0.24 -116.24 A116.24 116.24 0 0 1 20.42 -114.43 L18.91 -105.94 A107.61 107.61 0 0 0 -0.23 -107.61 Z" fill="#f47d48"/>
<path d="M19.94 -114.51 A116.24 116.24 0 0 1 30.32 -112.21 L28.07 -103.89 A107.61 107.61 0 0 0 18.46 -106.02 Z" fill="#fbb167"/>
<path d="M29.85 -112.34 A116.24 116.24 0 0 1 39.98 -109.15 L37.02 -101.04 A107.61 107.61 0 0 0 27.63 -104.00 Z" fill="#f99e59"/>
<path d="M39.53 -109.31 A116.24 116.24 0 0 1 49.35 -105.25 L45.68 -97.43 A107.61 107.61 0 0 0 36.59 -101.20 Z" fill="#f0e8c8"/>
<path d="M48.90 -105.45 A116.24 116.24 0 0 1 58.33 -100.54 L54.00 -93.08 A107.61 107.61 0 0 0 45.27 -97.62 Z" fill="#f78d50"/>
<path d="M57.91 -100.79 A116.24 116.24 0 0 1 66.87 -95.08 L61.91 -88.02 A107.61 107.61 0 0 0 53.61 -93.31 Z" fill="#f47d48"/>
<path d="M66.47 -95.36 A116.24 116.24 0 0 1 74.90 -88.89 L69.34 -82.29 A107.61 107.61 0 0 0 61.54 -88.28 Z" fill="#fbb167"/>
<path d="M74.53 -89.20 A116.24 116.24 0 0 1 82.37 -82.02 L76.25 -75.93 A107.61 107.61 0 0 0 69.00 -82.58 Z" fill="#f78d50"/>
<path d="M82.02 -82.37 A116.24 116.24 0 0 1 89.20 -74.53 L82.58 -69.00 A107.61 107.61 0 0 0 75.93 -76.25 Z" fill="#f47d48"/>
<path d="M88.89 -74.90 A116.24 116.24 0 0 1 95.36 -66.47 L88.28 -61.54 A107.61 107.61 0 0 0 82.29 -69.34 Z" fill="#f99e59"/>
<path d="M95.08 -66.87 A116.24 116.24 0 0 1 100.79 -57.91 L93.31 -53.61 A107.61 107.61 0 0 0 88.02 -61.91 Z" fill="#fdc97e"/>
<path d="M100.54 -58.33 A116.24 116.24 0 0 1 109.31 -39.53 L101.20 -36.59 A107.61 107.61 0 0 0 93.08 -54.00 Z" fill="#fbb167"/>
<path d="M109.15 -39.98 A116.24 116.24 0 0 1 112.34 -29.85 L104.00 -27.63 A107.61 107.61 0 0 0 101.04 -37.02 Z" fill="#f99e59"/>
<path d="M112.21 -30.32 A116.24 116.24 0 0 1 115.82 -9.89 L107.22 -9.15 A107.61 107.61 0 0 0 103.89 -28.07 Z" fill="#f78d50"/>
<path d="M115.78 -10.37 A116.24 116.24 0 0 1 116.24 0.24 L107.61 0.23 A107.61 107.61 0 0 0 107.18 -9.60 Z" fill="#fbdf9e"/>
<path d="M116.24 -0.24 A116.24 116.24 0 0 1 114.43 20.42 L105.94 18.91 A107.61 107.61 0 0 0 107.61 -0.23 Z" fill="#f99e59"/>
<path d="M114.51 19.94 A116.24 116.24 0 0 1 112.21 30.32 L103.89 28.07 A107.61 107.61 0 0 0 106.02 18.46 Z" fill="#f78d50"/>
<path d="M112.34 29.85 A116.24 116.24 0 0 1 109.15 39.98 L101.04 37.02 A107.61 107.61 0 0 0 104.00 27.63 Z" fill="#f47d48"/>
<path d="M109.31 39.53 A116.24 116.24 0 0 1 105.25 49.35 L97.43 45.68 A107.61 107.61 0 0 0 101.20 36.59 Z" fill="#fbb167"/>
<path d="M105.45 48.90 A116.24 116.24 0 0 1 100.54 58.33 L93.08 54.00 A107.61 107.61 0 0 0 97.62 45.27 Z" fill="#f78d50"/>
<path d="M100.79 57.91 A116.24 116.24 0 0 1 88.89 74.90 L82.29 69.34 A107.61 107.61 0 0 0 93.31 53.61 Z" fill="#f99e59"/>
<path d="M89.20 74.53 A116.24 116.24 0 0 1 82.02 82.37 L75.93 76.25 A107.61 107.61 0 0 0 82.58 69.00 Z" fill="#fbdf9e"/>
<path d="M82.37 82.02 A116.24 116.24 0 0 1 74.53 89.20 L69.00 82.58 A107.61 107.61 0 0 0 76.25 75.93 Z" fill="#f99e59"/>
<path d="M74.90 88.89 A116.24 116.24 0 0 1 66.47 95.36 L61.54 88.28 A107.61 107.61 0 0 0 69.34 82.29 Z" fill="#f47d48"/>
<path d="M66.87 95.08 A116.24 116.24 0 0 1 57.91 100.79 L53.61 93.31 A107.61 107.61 0 0 0 61.91 88.02 Z" fill="#f99e59"/>
<path d="M58.33 100.54 A116.24 116.24 0 0 1 48.90 105.45 L45.27 97.62 A107.61 107.61 0 0 0 54.00 93.08 Z" fill="#fbdf9e"/>
<path d="M49.35 105.25 A116.24 116.24 0 0 1 39.53 109.31 L36.59 101.20 A107.61 107.61 0 0 0 45.68 97.43 Z" fill="#fbb167"/>
<path d="M39.98 109.15 A116.24 116.24 0 0 1 29.85 112.34 L27.63 104.00 A107.61 107.61 0 0 0 37.02 101.04 Z" fill="#f78d50"/>
<path d="M30.32 112.21 A116.24 116.24 0 0 1 19.94 114.51 L18.46 106.02 A107.61 107.61 0 0 0 28.07 103.89 Z" fill="#a8d0e8"/>
<path d="M20.42 114.43 A116.24 116.24 0 0 1 9.89 115.82 L9.15 107.22 A107.61 107.61 0 0 0 18.91 105.94 Z" fill="#fdc97e"/>
<path d="M10.37 115.78 A116.24 116.24 0 0 1 -0.24 116.24 L-0.23 107.61 A107.61 107.61 0 0 0 9.60 107.18 Z" fill="#4a7bbf"/>
<path d="M0.24 116.24 A116.24 116.24 0 0 1 -10.37 115.78 L-9.60 107.18 A107.61 107.61 0 0 0 0.23 107.61 Z" fill="#f99e59"/>
<path d="M-9.89 115.82 A116.24 116.24 0 0 1 -20.42 114.43 L-18.91 105.94 A107.61 107.61 0 0 0 -9.15 107.22 Z" fill="#f47d48"/>
<path d="M-19.94 114.51 A116.24 116.24 0 0 1 -39.98 109.15 L-37.02 101.04 A107.61 107.61 0 0 0 -18.46 106.02 Z" fill="#f78d50"/>
<path d="M-39.53 109.31 A116.24 116.24 0 0 1 -49.35 105.25 L-45.68 97.43 A107.61 107.61 0 0 0 -36.59 101.20 Z" fill="#f99e59"/>
<path d="M-48.90 105.45 A116.24 116.24 0 0 1 -58.33 100.54 L-54.00 93.08 A107.61 107.61 0 0 0 -45.27 97.62 Z" fill="#f78d50"/>
<path d="M-57.91 100.79 A116.24 116.24 0 0 1 -74.90 88.89 L-69.34 82.29 A107.61 107.61 0 0 0 -53.61 93.31 Z" fill="#f99e59"/>
<path d="M-74.53 89.20 A116.24 116.24 0 0 1 -82.37 82.02 L-76.25 75.93 A107.61 107.61 0 0 0 -69.00 82.58 Z" fill="#fdc97e"/>
<path d="M-82.02 82.37 A116.24 116.24 0 0 1 -89.20 74.53 L-82.58 69.00 A107.61 107.61 0 0 0 -75.93 76.25 Z" fill="#76abd5"/>
<path d="M-88.89 74.90 A116.24 116.24 0 0 1 -95.36 66.47 L-88.28 61.54 A107.61 107.61 0 0 0 -82.29 69.34 Z" fill="#4a7bbf"/>
<path d="M-95.08 66.87 A116.24 116.24 0 0 1 -100.79 57.91 L-93.31 53.61 A107.61 107.61 0 0 0 -88.02 61.91 Z" fill="#a8d0e8"/>
<path d="M-100.54 58.33 A116.24 116.24 0 0 1 -105.45 48.90 L-97.62 45.27 A107.61 107.61 0 0 0 -93.08 54.00 Z" fill="#4a7bbf"/>
<path d="M-105.25 49.35 A116.24 116.24 0 0 1 -112.34 29.85 L-104.00 27.63 A107.61 107.61 0 0 0 -97.43 45.68 Z" fill="#fbdf9e"/>
<path d="M-112.21 30.32 A116.24 116.24 0 0 1 -114.51 19.94 L-106.02 18.46 A107.61 107.61 0 0 0 -103.89 28.07 Z" fill="#dcecf1"/>
<path d="M-114.43 20.42 A116.24 116.24 0 0 1 -115.82 9.89 L-107.22 9.15 A107.61 107.61 0 0 0 -105.94 18.91 Z" fill="#fdc97e"/>
<path d="M-115.78 10.37 A116.24 116.24 0 0 1 -116.24 -0.24 L-107.61 -0.23 A107.61 107.61 0 0 0 -107.18 9.60 Z" fill="#f78d50"/>
<path d="M-116.24 0.24 A116.24 116.24 0 0 1 -115.78 -10.37 L-107.18 -9.60 A107.61 107.61 0 0 0 -107.61 0.23 Z" fill="#f99e59"/>
<path d="M-115.82 -9.89 A116.24 116.24 0 0 1 -114.43 -20.42 L-105.94 -18.91 A107.61 107.61 0 0 0 -107.22 -9.15 Z" fill="#76abd5"/>
<path d="M-114.51 -19.94 A116.24 116.24 0 0 1 -112.21 -30.32 L-103.89 -28.07 A107.61 107.61 0 0 0 -106.02 -18.46 Z" fill="#fdc97e"/>
<path d="M-112.34 -29.85 A116.24 116.24 0 0 1 -109.15 -39.98 L-101.04 -37.02 A107.61 107.61 0 0 0 -104.00 -27.63 Z" fill="#fbb167"/>
<path d="M-109.31 -39.53 A116.24 116.24 0 0 1 -105.25 -49.35 L-97.43 -45.68 A107.61 107.61 0 0 0 -101.20 -36.59 Z" fill="#fdc97e"/>
<path d="M-105.45 -48.90 A116.24 116.24 0 0 1 -100.54 -58.33 L-93.08 -54.00 A107.61 107.61 0 0 0 -97.62 -45.27 Z" fill="#76abd5"/>
<path d="M-100.79 -57.91 A116.24 116.24 0 0 1 -95.08 -66.87 L-88.02 -61.91 A107.61 107.61 0 0 0 -93.31 -53.61 Z" fill="#fdc97e"/>
<path d="M-95.36 -66.47 A116.24 116.24 0 0 1 -88.89 -74.90 L-82.29 -69.34 A107.61 107.61 0 0 0 -88.28 -61.54 Z" fill="#fbb167"/>
<path d="M-89.20 -74.53 A116.24 116.24 0 0 1 -82.02 -82.37 L-75.93 -76.25 A107.61 107.61 0 0 0 -82.58 -69.00 Z" fill="#fbdf9e"/>
<path d="M-82.37 -82.02 A116.24 116.24 0 0 1 -74.53 -89.20 L-69.00 -82.58 A107.61 107.61 0 0 0 -76.25 -75.93 Z" fill="#a8d0e8"/>
<path d="M-74.90 -88.89 A116.24 116.24 0 0 1 -66.47 -95.36 L-61.54 -88.28 A107.61 107.61 0 0 0 -69.34 -82.29 Z" fill="#dcecf1"/>
<path d="M-66.87 -95.08 A116.24 116.24 0 0 1 -57.91 -100.79 L-53.61 -93.31 A107.61 107.61 0 0 0 -61.91 -88.02 Z" fill="#4a7bbf"/>
<path d="M-58.33 -100.54 A116.24 116.24 0 0 1 -48.90 -105.45 L-45.27 -97.62 A107.61 107.61 0 0 0 -54.00 -93.08 Z" fill="#dcecf1"/>
<path d="M-49.35 -105.25 A116.24 116.24 0 0 1 -39.53 -109.31 L-36.59 -101.20 A107.61 107.61 0 0 0 -45.68 -97.43 Z" fill="#fdc97e"/>
<path d="M-39.98 -109.15 A116.24 116.24 0 0 1 -29.85 -112.34 L-27.63 -104.00 A107.61 107.61 0 0 0 -37.02 -101.04 Z" fill="#fbdf9e"/>
<path d="M-30.32 -112.21 A116.24 116.24 0 0 1 -19.94 -114.51 L-18.46 -106.02 A107.61 107.61 0 0 0 -28.07 -103.89 Z" fill="#fdc97e"/>
<path d="M-20.42 -114.43 A116.24 116.24 0 0 1 0.24 -116.24 L0.23 -107.61 A107.61 107.61 0 0 0 -18.91 -105.94 Z" fill="#f99e59"/>
<path d="M-0.23 -107.96 A107.96 107.96 0 0 1 9.63 -107.53 L8.86 -98.94 A99.33 99.33 0 0 0 -0.21 -99.33 Z" fill="#f47d48"/>
<path d="M9.18 -107.57 A107.96 107.96 0 0 1 18.97 -106.28 L17.45 -97.79 A99.33 99.33 0 0 0 8.45 -98.97 Z" fill="#f78d50"/>
<path d="M18.52 -106.36 A107.96 107.96 0 0 1 28.16 -104.22 L25.91 -95.89 A99.33 99.33 0 0 0 17.04 -97.86 Z" fill="#fbb167"/>
<path d="M27.72 -104.34 A107.96 107.96 0 0 1 45.83 -97.75 L42.17 -89.94 A99.33 99.33 0 0 0 25.51 -96.00 Z" fill="#f99e59"/>
<path d="M45.42 -97.94 A107.96 107.96 0 0 1 62.11 -88.31 L57.15 -81.25 A99.33 99.33 0 0 0 41.79 -90.11 Z" fill="#f47d48"/>
<path d="M61.74 -88.57 A107.96 107.96 0 0 1 69.57 -82.56 L64.01 -75.96 A99.33 99.33 0 0 0 56.80 -81.49 Z" fill="#fbb167"/>
<path d="M69.22 -82.85 A107.96 107.96 0 0 1 76.50 -76.18 L70.39 -70.09 A99.33 99.33 0 0 0 63.69 -76.23 Z" fill="#f78d50"/>
<path d="M76.18 -76.50 A107.96 107.96 0 0 1 82.85 -69.22 L76.23 -63.69 A99.33 99.33 0 0 0 70.09 -70.39 Z" fill="#f47d48"/>
<path d="M82.56 -69.57 A107.96 107.96 0 0 1 88.57 -61.74 L81.49 -56.80 A99.33 99.33 0 0 0 75.96 -64.01 Z" fill="#fbdf9e"/>
<path d="M88.31 -62.11 A107.96 107.96 0 0 1 93.61 -53.78 L86.13 -49.49 A99.33 99.33 0 0 0 81.25 -57.15 Z" fill="#fdc97e"/>
<path d="M93.38 -54.18 A107.96 107.96 0 0 1 101.53 -36.71 L93.41 -33.78 A99.33 99.33 0 0 0 85.92 -49.85 Z" fill="#fbb167"/>
<path d="M101.37 -37.14 A107.96 107.96 0 0 1 104.34 -27.72 L96.00 -25.51 A99.33 99.33 0 0 0 93.27 -34.17 Z" fill="#f99e59"/>
<path d="M104.22 -28.16 A107.96 107.96 0 0 1 106.36 -18.52 L97.86 -17.04 A99.33 99.33 0 0 0 95.89 -25.91 Z" fill="#f47d48"/>
<path d="M106.28 -18.97 A107.96 107.96 0 0 1 107.57 -9.18 L98.97 -8.45 A99.33 99.33 0 0 0 97.79 -17.45 Z" fill="#f78d50"/>
<path d="M107.53 -9.63 A107.96 107.96 0 0 1 107.96 0.23 L99.33 0.21 A99.33 99.33 0 0 0 98.94 -8.86 Z" fill="#f0e8c8"/>
<path d="M107.96 -0.23 A107.96 107.96 0 0 1 106.28 18.97 L97.79 17.45 A99.33 99.33 0 0 0 99.33 -0.21 Z" fill="#f99e59"/>
<path d="M106.36 18.52 A107.96 107.96 0 0 1 104.22 28.16 L95.89 25.91 A99.33 99.33 0 0 0 97.86 17.04 Z" fill="#f78d50"/>
<path d="M104.34 27.72 A107.96 107.96 0 0 1 101.37 37.14 L93.27 34.17 A99.33 99.33 0 0 0 96.00 25.51 Z" fill="#f47d48"/>
<path d="M101.53 36.71 A107.96 107.96 0 0 1 97.75 45.83 L89.94 42.17 A99.33 99.33 0 0 0 93.41 33.78 Z" fill="#fbb167"/>
<path d="M97.94 45.42 A107.96 107.96 0 0 1 93.38 54.18 L85.92 49.85 A99.33 99.33 0 0 0 90.11 41.79 Z" fill="#fdc97e"/>
<path d="M93.61 53.78 A107.96 107.96 0 0 1 82.56 69.57 L75.96 64.01 A99.33 99.33 0 0 0 86.13 49.49 Z" fill="#f99e59"/>
<path d="M82.85 69.22 A107.96 107.96 0 0 1 76.18 76.50 L70.09 70.39 A99.33 99.33 0 0 0 76.23 63.69 Z" fill="#fbdf9e"/>
<path d="M76.50 76.18 A107.96 107.96 0 0 1 69.22 82.85 L63.69 76.23 A99.33 99.33 0 0 0 70.39 70.09 Z" fill="#f99e59"/>
<path d="M69.57 82.56 A107.96 107.96 0 0 1 61.74 88.57 L56.80 81.49 A99.33 99.33 0 0 0 64.01 75.96 Z" fill="#f78d50"/>
<path d="M62.11 88.31 A107.96 107.96 0 0 1 53.78 93.61 L49.49 86.13 A99.33 99.33 0 0 0 57.15 81.25 Z" fill="#f99e59"/>
<path d="M54.18 93.38 A107.96 107.96 0 0 1 45.42 97.94 L41.79 90.11 A99.33 99.33 0 0 0 49.85 85.92 Z" fill="#f0e8c8"/>
<path d="M45.83 97.75 A107.96 107.96 0 0 1 36.71 101.53 L33.78 93.41 A99.33 99.33 0 0 0 42.17 89.94 Z" fill="#f99e59"/>
<path d="M37.14 101.37 A107.96 107.96 0 0 1 27.72 104.34 L25.51 96.00 A99.33 99.33 0 0 0 34.17 93.27 Z" fill="#f78d50"/>
<path d="M28.16 104.22 A107.96 107.96 0 0 1 18.52 106.36 L17.04 97.86 A99.33 99.33 0 0 0 25.91 95.89 Z" fill="#76abd5"/>
<path d="M18.97 106.28 A107.96 107.96 0 0 1 -0.23 107.96 L-0.21 99.33 A99.33 99.33 0 0 0 17.45 97.79 Z" fill="#f0e8c8"/>
<path d="M0.23 107.96 A107.96 107.96 0 0 1 -9.63 107.53 L-8.86 98.94 A99.33 99.33 0 0 0 0.21 99.33 Z" fill="#f99e59"/>
<path d="M-9.18 107.57 A107.96 107.96 0 0 1 -28.16 104.22 L-25.91 95.89 A99.33 99.33 0 0 0 -8.45 98.97 Z" fill="#f47d48"/>
<path d="M-27.72 104.34 A107.96 107.96 0 0 1 -62.11 88.31 L-57.15 81.25 A99.33 99.33 0 0 0 -25.51 96.00 Z" fill="#f99e59"/>
<path d="M-61.74 88.57 A107.96 107.96 0 0 1 -69.57 82.56 L-64.01 75.96 A99.33 99.33 0 0 0 -56.80 81.49 Z" fill="#fbdf9e"/>
<path d="M-69.22 82.85 A107.96 107.96 0 0 1 -82.85 69.22 L-76.23 63.69 A99.33 99.33 0 0 0 -63.69 76.23 Z" fill="#76abd5"/>
<path d="M-82.56 69.57 A107.96 107.96 0 0 1 -88.57 61.74 L-81.49 56.80 A99.33 99.33 0 0 0 -75.96 64.01 Z" fill="#a8d0e8"/>
<path d="M-88.31 62.11 A107.96 107.96 0 0 1 -93.61 53.78 L-86.13 49.49 A99.33 99.33 0 0 0 -81.25 57.15 Z" fill="#4a7bbf"/>
<path d="M-93.38 54.18 A107.96 107.96 0 0 1 -97.94 45.42 L-90.11 41.79 A99.33 99.33 0 0 0 -85.92 49.85 Z" fill="#f99e59"/>
<path d="M-97.75 45.83 A107.96 107.96 0 0 1 -101.53 36.71 L-93.41 33.78 A99.33 99.33 0 0 0 -89.94 42.17 Z" fill="#dcecf1"/>
<path d="M-101.37 37.14 A107.96 107.96 0 0 1 -104.34 27.72 L-96.00 25.51 A99.33 99.33 0 0 0 -93.27 34.17 Z" fill="#fbb167"/>
<path d="M-104.22 28.16 A107.96 107.96 0 0 1 -106.36 18.52 L-97.86 17.04 A99.33 99.33 0 0 0 -95.89 25.91 Z" fill="#dcecf1"/>
<path d="M-106.28 18.97 A107.96 107.96 0 0 1 -107.57 9.18 L-98.97 8.45 A99.33 99.33 0 0 0 -97.79 17.45 Z" fill="#fdc97e"/>
<path d="M-107.53 9.63 A107.96 107.96 0 0 1 -107.96 -0.23 L-99.33 -0.21 A99.33 99.33 0 0 0 -98.94 8.86 Z" fill="#f47d48"/>
<path d="M-107.96 0.23 A107.96 107.96 0 0 1 -107.53 -9.63 L-98.94 -8.86 A99.33 99.33 0 0 0 -99.33 0.21 Z" fill="#f78d50"/>
<path d="M-107.57 -9.18 A107.96 107.96 0 0 1 -106.28 -18.97 L-97.79 -17.45 A99.33 99.33 0 0 0 -98.97 -8.45 Z" fill="#76abd5"/>
<path d="M-106.36 -18.52 A107.96 107.96 0 0 1 -104.22 -28.16 L-95.89 -25.91 A99.33 99.33 0 0 0 -97.86 -17.04 Z" fill="#fdc97e"/>
<path d="M-104.34 -27.72 A107.96 107.96 0 0 1 -97.75 -45.83 L-89.94 -42.17 A99.33 99.33 0 0 0 -96.00 -25.51 Z" fill="#fbb167"/>
<path d="M-97.94 -45.42 A107.96 107.96 0 0 1 -93.38 -54.18 L-85.92 -49.85 A99.33 99.33 0 0 0 -90.11 -41.79 Z" fill="#dcecf1"/>
<path d="M-93.61 -53.78 A107.96 107.96 0 0 1 -88.31 -62.11 L-81.25 -57.15 A99.33 99.33 0 0 0 -86.13 -49.49 Z" fill="#fbb167"/>
<path d="M-88.57 -61.74 A107.96 107.96 0 0 1 -82.56 -69.57 L-75.96 -64.01 A99.33 99.33 0 0 0 -81.49 -56.80 Z" fill="#f99e59"/>
<path d="M-82.85 -69.22 A107.96 107.96 0 0 1 -76.18 -76.50 L-70.09 -70.39 A99.33 99.33 0 0 0 -76.23 -63.69 Z" fill="#f0e8c8"/>
<path d="M-76.50 -76.18 A107.96 107.96 0 0 1 -69.22 -82.85 L-63.69 -76.23 A99.33 99.33 0 0 0 -70.39 -70.09 Z" fill="#dcecf1"/>
<path d="M-69.57 -82.56 A107.96 107.96 0 0 1 -61.74 -88.57 L-56.80 -81.49 A99.33 99.33 0 0 0 -64.01 -75.96 Z" fill="#f0e8c8"/>
<path d="M-62.11 -88.31 A107.96 107.96 0 0 1 -53.78 -93.61 L-49.49 -86.13 A99.33 99.33 0 0 0 -57.15 -81.25 Z" fill="#dcecf1"/>
<path d="M-54.18 -93.38 A107.96 107.96 0 0 1 -45.42 -97.94 L-41.79 -90.11 A99.33 99.33 0 0 0 -49.85 -85.92 Z" fill="#2d3c97"/>
<path d="M-45.83 -97.75 A107.96 107.96 0 0 1 -27.72 -104.34 L-25.51 -96.00 A99.33 99.33 0 0 0 -42.17 -89.94 Z" fill="#a8d0e8"/>
<path d="M-28.16 -104.22 A107.96 107.96 0 0 1 -18.52 -106.36 L-17.04 -97.86 A99.33 99.33 0 0 0 -25.91 -95.89 Z" fill="#f0e8c8"/>
<path d="M-18.97 -106.28 A107.96 107.96 0 0 1 -9.18 -107.57 L-8.45 -98.97 A99.33 99.33 0 0 0 -17.45 -97.79 Z" fill="#fbb167"/>
<path d="M-9.63 -107.53 A107.96 107.96 0 0 1 0.23 -107.96 L0.21 -99.33 A99.33 99.33 0 0 0 -8.86 -98.94 Z" fill="#f99e59"/>
<path d="M-0.21 -99.68 A99.68 99.68 0 0 1 8.90 -99.29 L8.13 -90.69 A91.06 91.06 0 0 0 -0.19 -91.06 Z" fill="#fdc97e"/>
<path d="M8.48 -99.32 A99.68 99.68 0 0 1 17.52 -98.13 L16.00 -89.64 A91.06 91.06 0 0 0 7.75 -90.73 Z" fill="#fbb167"/>
<path d="M17.10 -98.20 A99.68 99.68 0 0 1 34.29 -93.60 L31.32 -85.50 A91.06 91.06 0 0 0 15.62 -89.71 Z" fill="#f99e59"/>
<path d="M33.90 -93.74 A99.68 99.68 0 0 1 64.24 -76.23 L58.68 -69.63 A91.06 91.06 0 0 0 30.96 -85.63 Z" fill="#f78d50"/>
<path d="M63.92 -76.50 A99.68 99.68 0 0 1 70.63 -70.34 L64.52 -64.25 A91.06 91.06 0 0 0 58.38 -69.88 Z" fill="#dcecf1"/>
<path d="M70.34 -70.63 A99.68 99.68 0 0 1 76.50 -63.92 L69.88 -58.38 A91.06 91.06 0 0 0 64.25 -64.52 Z" fill="#76abd5"/>
<path d="M76.23 -64.24 A99.68 99.68 0 0 1 90.43 -41.94 L82.60 -38.31 A91.06 91.06 0 0 0 69.63 -58.68 Z" fill="#f78d50"/>
<path d="M90.26 -42.32 A99.68 99.68 0 0 1 93.74 -33.90 L85.63 -30.96 A91.06 91.06 0 0 0 82.44 -38.65 Z" fill="#fbdf9e"/>
<path d="M93.60 -34.29 A99.68 99.68 0 0 1 96.34 -25.60 L88.00 -23.38 A91.06 91.06 0 0 0 85.50 -31.32 Z" fill="#f99e59"/>
<path d="M96.23 -26.00 A99.68 99.68 0 0 1 99.32 -8.48 L90.73 -7.75 A91.06 91.06 0 0 0 87.90 -23.75 Z" fill="#f78d50"/>
<path d="M99.29 -8.90 A99.68 99.68 0 0 1 99.68 0.21 L91.06 0.19 A91.06 91.06 0 0 0 90.69 -8.13 Z" fill="#dcecf1"/>
<path d="M99.68 -0.21 A99.68 99.68 0 0 1 99.29 8.90 L90.69 8.13 A91.06 91.06 0 0 0 91.06 -0.19 Z" fill="#f78d50"/>
<path d="M99.32 8.48 A99.68 99.68 0 0 1 98.13 17.52 L89.64 16.00 A91.06 91.06 0 0 0 90.73 7.75 Z" fill="#f99e59"/>
<path d="M98.20 17.10 A99.68 99.68 0 0 1 93.60 34.29 L85.50 31.32 A91.06 91.06 0 0 0 89.71 15.62 Z" fill="#f78d50"/>
<path d="M93.74 33.90 A99.68 99.68 0 0 1 90.26 42.32 L82.44 38.65 A91.06 91.06 0 0 0 85.63 30.96 Z" fill="#f47d48"/>
<path d="M90.43 41.94 A99.68 99.68 0 0 1 81.54 57.35 L74.48 52.38 A91.06 91.06 0 0 0 82.60 38.31 Z" fill="#f78d50"/>
<path d="M81.78 57.00 A99.68 99.68 0 0 1 76.23 64.24 L69.63 58.68 A91.06 91.06 0 0 0 74.70 52.07 Z" fill="#f47d48"/>
<path d="M76.50 63.92 A99.68 99.68 0 0 1 70.34 70.63 L64.25 64.52 A91.06 91.06 0 0 0 69.88 58.38 Z" fill="#dcecf1"/>
<path d="M70.63 70.34 A99.68 99.68 0 0 1 63.92 76.50 L58.38 69.88 A91.06 91.06 0 0 0 64.52 64.25 Z" fill="#f78d50"/>
<path d="M64.24 76.23 A99.68 99.68 0 0 1 57.00 81.78 L52.07 74.70 A91.06 91.06 0 0 0 58.68 69.63 Z" fill="#fdc97e"/>
<path d="M57.35 81.54 A99.68 99.68 0 0 1 49.66 86.43 L45.36 78.95 A91.06 91.06 0 0 0 52.38 74.48 Z" fill="#fbb167"/>
<path d="M50.02 86.22 A99.68 99.68 0 0 1 41.94 90.43 L38.31 82.60 A91.06 91.06 0 0 0 45.69 78.76 Z" fill="#fbdf9e"/>
<path d="M42.32 90.26 A99.68 99.68 0 0 1 33.90 93.74 L30.96 85.63 A91.06 91.06 0 0 0 38.65 82.44 Z" fill="#f78d50"/>
<path d="M34.29 93.60 A99.68 99.68 0 0 1 25.60 96.34 L23.38 88.00 A91.06 91.06 0 0 0 31.32 85.50 Z" fill="#f99e59"/>
<path d="M26.00 96.23 A99.68 99.68 0 0 1 17.10 98.20 L15.62 89.71 A91.06 91.06 0 0 0 23.75 87.90 Z" fill="#f78d50"/>
<path d="M17.52 98.13 A99.68 99.68 0 0 1 8.48 99.32 L7.75 90.73 A91.06 91.06 0 0 0 16.00 89.64 Z" fill="#fbdf9e"/>
<path d="M8.90 99.29 A99.68 99.68 0 0 1 -8.90 99.29 L-8.13 90.69 A91.06 91.06 0 0 0 8.13 90.69 Z" fill="#f99e59"/>
<path d="M-8.48 99.32 A99.68 99.68 0 0 1 -42.32 90.26 L-38.65 82.44 A91.06 91.06 0 0 0 -7.75 90.73 Z" fill="#f78d50"/>
<path d="M-41.94 90.43 A99.68 99.68 0 0 1 -50.02 86.22 L-45.69 78.76 A91.06 91.06 0 0 0 -38.31 82.60 Z" fill="#fbb167"/>
<path d="M-49.66 86.43 A99.68 99.68 0 0 1 -57.35 81.54 L-52.38 74.48 A91.06 91.06 0 0 0 -45.36 78.95 Z" fill="#dcecf1"/>
<path d="M-57.00 81.78 A99.68 99.68 0 0 1 -64.24 76.23 L-58.68 69.63 A91.06 91.06 0 0 0 -52.07 74.70 Z" fill="#f78d50"/>
<path d="M-63.92 76.50 A99.68 99.68 0 0 1 -70.63 70.34 L-64.52 64.25 A91.06 91.06 0 0 0 -58.38 69.88 Z" fill="#4a7bbf"/>
<path d="M-70.34 70.63 A99.68 99.68 0 0 1 -81.78 57.00 L-74.70 52.07 A91.06 91.06 0 0 0 -64.25 64.52 Z" fill="#f78d50"/>
<path d="M-81.54 57.35 A99.68 99.68 0 0 1 -86.43 49.66 L-78.95 45.36 A91.06 91.06 0 0 0 -74.48 52.38 Z" fill="#f0e8c8"/>
<path d="M-86.22 50.02 A99.68 99.68 0 0 1 -90.43 41.94 L-82.60 38.31 A91.06 91.06 0 0 0 -78.76 45.69 Z" fill="#fbb167"/>
<path d="M-90.26 42.32 A99.68 99.68 0 0 1 -93.74 33.90 L-85.63 30.96 A91.06 91.06 0 0 0 -82.44 38.65 Z" fill="#f99e59"/>
<path d="M-93.60 34.29 A99.68 99.68 0 0 1 -96.34 25.60 L-88.00 23.38 A91.06 91.06 0 0 0 -85.50 31.32 Z" fill="#f78d50"/>
<path d="M-96.23 26.00 A99.68 99.68 0 0 1 -98.20 17.10 L-89.71 15.62 A91.06 91.06 0 0 0 -87.90 23.75 Z" fill="#f99e59"/>
<path d="M-98.13 17.52 A99.68 99.68 0 0 1 -99.32 8.48 L-90.73 7.75 A91.06 91.06 0 0 0 -89.64 16.00 Z" fill="#dcecf1"/>
<path d="M-99.29 8.90 A99.68 99.68 0 0 1 -99.29 -8.90 L-90.69 -8.13 A91.06 91.06 0 0 0 -90.69 8.13 Z" fill="#f47d48"/>
<path d="M-99.32 -8.48 A99.68 99.68 0 0 1 -96.23 -26.00 L-87.90 -23.75 A91.06 91.06 0 0 0 -90.73 -7.75 Z" fill="#dcecf1"/>
<path d="M-96.34 -25.60 A99.68 99.68 0 0 1 -90.26 -42.32 L-82.44 -38.65 A91.06 91.06 0 0 0 -88.00 -23.38 Z" fill="#f78d50"/>
<path d="M-90.43 -41.94 A99.68 99.68 0 0 1 -86.22 -50.02 L-78.76 -45.69 A91.06 91.06 0 0 0 -82.60 -38.31 Z" fill="#f99e59"/>
<path d="M-86.43 -49.66 A99.68 99.68 0 0 1 -81.54 -57.35 L-74.48 -52.38 A91.06 91.06 0 0 0 -78.95 -45.36 Z" fill="#f47d48"/>
<path d="M-81.78 -57.00 A99.68 99.68 0 0 1 -76.23 -64.24 L-69.63 -58.68 A91.06 91.06 0 0 0 -74.70 -52.07 Z" fill="#f78d50"/>
<path d="M-76.50 -63.92 A99.68 99.68 0 0 1 -63.92 -76.50 L-58.38 -69.88 A91.06 91.06 0 0 0 -69.88 -58.38 Z" fill="#dcecf1"/>
<path d="M-64.24 -76.23 A99.68 99.68 0 0 1 -57.00 -81.78 L-52.07 -74.70 A91.06 91.06 0 0 0 -58.68 -69.63 Z" fill="#f78d50"/>
<path d="M-57.35 -81.54 A99.68 99.68 0 0 1 -49.66 -86.43 L-45.36 -78.95 A91.06 91.06 0 0 0 -52.38 -74.48 Z" fill="#f99e59"/>
<path d="M-50.02 -86.22 A99.68 99.68 0 0 1 -41.94 -90.43 L-38.31 -82.60 A91.06 91.06 0 0 0 -45.69 -78.76 Z" fill="#dcecf1"/>
<path d="M-42.32 -90.26 A99.68 99.68 0 0 1 -33.90 -93.74 L-30.96 -85.63 A91.06 91.06 0 0 0 -38.65 -82.44 Z" fill="#a8d0e8"/>
<path d="M-34.29 -93.60 A99.68 99.68 0 0 1 -25.60 -96.34 L-23.38 -88.00 A91.06 91.06 0 0 0 -31.32 -85.50 Z" fill="#fbb167"/>
<path d="M-26.00 -96.23 A99.68 99.68 0 0 1 -8.48 -99.32 L-7.75 -90.73 A91.06 91.06 0 0 0 -23.75 -87.90 Z" fill="#76abd5"/>
<path d="M-8.90 -99.29 A99.68 99.68 0 0 1 0.21 -99.68 L0.19 -91.06 A91.06 91.06 0 0 0 -8.13 -90.69 Z" fill="#fbdf9e"/>
<path d="M-0.19 -91.41 A91.41 91.41 0 0 1 8.16 -91.04 L7.39 -82.45 A82.78 82.78 0 0 0 -0.17 -82.78 Z" fill="#fbb167"/>
<path d="M7.78 -91.07 A91.41 91.41 0 0 1 16.06 -89.98 L14.54 -81.49 A82.78 82.78 0 0 0 7.04 -82.48 Z" fill="#fdc97e"/>
<path d="M15.68 -90.05 A91.41 91.41 0 0 1 23.84 -88.24 L21.59 -79.91 A82.78 82.78 0 0 0 14.20 -81.55 Z" fill="#fbb167"/>
<path d="M23.47 -88.34 A91.41 91.41 0 0 1 31.44 -85.83 L28.47 -77.73 A82.78 82.78 0 0 0 21.26 -80.00 Z" fill="#f99e59"/>
<path d="M31.08 -85.96 A91.41 91.41 0 0 1 38.80 -82.76 L35.14 -74.95 A82.78 82.78 0 0 0 28.15 -77.84 Z" fill="#f47d48"/>
<path d="M38.46 -82.92 A91.41 91.41 0 0 1 45.87 -79.06 L41.54 -71.60 A82.78 82.78 0 0 0 34.83 -75.10 Z" fill="#f78d50"/>
<path d="M45.54 -79.26 A91.41 91.41 0 0 1 52.58 -74.77 L47.62 -67.71 A82.78 82.78 0 0 0 41.24 -71.77 Z" fill="#f47d48"/>
<path d="M52.27 -74.98 A91.41 91.41 0 0 1 58.90 -69.90 L53.34 -63.30 A82.78 82.78 0 0 0 47.34 -67.91 Z" fill="#f78d50"/>
<path d="M58.61 -70.14 A91.41 91.41 0 0 1 64.77 -64.50 L58.66 -58.41 A82.78 82.78 0 0 0 53.08 -63.52 Z" fill="#f99e59"/>
<path d="M64.50 -64.77 A91.41 91.41 0 0 1 70.14 -58.61 L63.52 -53.08 A82.78 82.78 0 0 0 58.41 -58.66 Z" fill="#fbdf9e"/>
<path d="M69.90 -58.90 A91.41 91.41 0 0 1 74.98 -52.27 L67.91 -47.34 A82.78 82.78 0 0 0 63.30 -53.34 Z" fill="#f78d50"/>
<path d="M74.77 -52.58 A91.41 91.41 0 0 1 82.92 -38.46 L75.10 -34.83 A82.78 82.78 0 0 0 67.71 -47.62 Z" fill="#f47d48"/>
<path d="M82.76 -38.80 A91.41 91.41 0 0 1 85.96 -31.08 L77.84 -28.15 A82.78 82.78 0 0 0 74.95 -35.14 Z" fill="#f99e59"/>
<path d="M85.83 -31.44 A91.41 91.41 0 0 1 88.34 -23.47 L80.00 -21.26 A82.78 82.78 0 0 0 77.73 -28.47 Z" fill="#f0e8c8"/>
<path d="M88.24 -23.84 A91.41 91.41 0 0 1 91.07 -7.78 L82.48 -7.04 A82.78 82.78 0 0 0 79.91 -21.59 Z" fill="#f78d50"/>
<path d="M91.04 -8.16 A91.41 91.41 0 0 1 91.41 0.19 L82.78 0.17 A82.78 82.78 0 0 0 82.45 -7.39 Z" fill="#a8d0e8"/>
<path d="M91.41 -0.19 A91.41 91.41 0 0 1 91.04 8.16 L82.45 7.39 A82.78 82.78 0 0 0 82.78 -0.17 Z" fill="#f78d50"/>
<path d="M91.07 7.78 A91.41 91.41 0 0 1 89.98 16.06 L81.49 14.54 A82.78 82.78 0 0 0 82.48 7.04 Z" fill="#f99e59"/>
<path d="M90.05 15.68 A91.41 91.41 0 0 1 88.24 23.84 L79.91 21.59 A82.78 82.78 0 0 0 81.55 14.20 Z" fill="#f78d50"/>
<path d="M88.34 23.47 A91.41 91.41 0 0 1 85.83 31.44 L77.73 28.47 A82.78 82.78 0 0 0 80.00 21.26 Z" fill="#dcecf1"/>
<path d="M85.96 31.08 A91.41 91.41 0 0 1 82.76 38.80 L74.95 35.14 A82.78 82.78 0 0 0 77.84 28.15 Z" fill="#f78d50"/>
<path d="M82.92 38.46 A91.41 91.41 0 0 1 79.06 45.87 L71.60 41.54 A82.78 82.78 0 0 0 75.10 34.83 Z" fill="#f99e59"/>
<path d="M79.26 45.54 A91.41 91.41 0 0 1 69.90 58.90 L63.30 53.34 A82.78 82.78 0 0 0 71.77 41.24 Z" fill="#f78d50"/>
<path d="M70.14 58.61 A91.41 91.41 0 0 1 64.50 64.77 L58.41 58.66 A82.78 82.78 0 0 0 63.52 53.08 Z" fill="#f47d48"/>
<path d="M64.77 64.50 A91.41 91.41 0 0 1 58.61 70.14 L53.08 63.52 A82.78 82.78 0 0 0 58.66 58.41 Z" fill="#f0e8c8"/>
<path d="M58.90 69.90 A91.41 91.41 0 0 1 52.27 74.98 L47.34 67.91 A82.78 82.78 0 0 0 53.34 63.30 Z" fill="#dcecf1"/>
<path d="M52.58 74.77 A91.41 91.41 0 0 1 45.54 79.26 L41.24 71.77 A82.78 82.78 0 0 0 47.62 67.71 Z" fill="#fbdf9e"/>
<path d="M45.87 79.06 A91.41 91.41 0 0 1 38.46 82.92 L34.83 75.10 A82.78 82.78 0 0 0 41.54 71.60 Z" fill="#fdc97e"/>
<path d="M38.80 82.76 A91.41 91.41 0 0 1 31.08 85.96 L28.15 77.84 A82.78 82.78 0 0 0 35.14 74.95 Z" fill="#f47d48"/>
<path d="M31.44 85.83 A91.41 91.41 0 0 1 7.78 91.07 L7.04 82.48 A82.78 82.78 0 0 0 28.47 77.73 Z" fill="#f78d50"/>
<path d="M8.16 91.04 A91.41 91.41 0 0 1 -23.84 88.24 L-21.59 79.91 A82.78 82.78 0 0 0 7.39 82.45 Z" fill="#f99e59"/>
<path d="M-23.47 88.34 A91.41 91.41 0 0 1 -31.44 85.83 L-28.47 77.73 A82.78 82.78 0 0 0 -21.26 80.00 Z" fill="#f78d50"/>
<path d="M-31.08 85.96 A91.41 91.41 0 0 1 -38.80 82.76 L-35.14 74.95 A82.78 82.78 0 0 0 -28.15 77.84 Z" fill="#f99e59"/>
<path d="M-38.46 82.92 A91.41 91.41 0 0 1 -45.87 79.06 L-41.54 71.60 A82.78 82.78 0 0 0 -34.83 75.10 Z" fill="#a8d0e8"/>
<path d="M-45.54 79.26 A91.41 91.41 0 0 1 -52.58 74.77 L-47.62 67.71 A82.78 82.78 0 0 0 -41.24 71.77 Z" fill="#4a7bbf"/>
<path d="M-52.27 74.98 A91.41 91.41 0 0 1 -58.90 69.90 L-53.34 63.30 A82.78 82.78 0 0 0 -47.34 67.91 Z" fill="#f78d50"/>
<path d="M-58.61 70.14 A91.41 91.41 0 0 1 -64.77 64.50 L-58.66 58.41 A82.78 82.78 0 0 0 -53.08 63.52 Z" fill="#dcecf1"/>
<path d="M-64.50 64.77 A91.41 91.41 0 0 1 -70.14 58.61 L-63.52 53.08 A82.78 82.78 0 0 0 -58.41 58.66 Z" fill="#f78d50"/>
<path d="M-69.90 58.90 A91.41 91.41 0 0 1 -74.98 52.27 L-67.91 47.34 A82.78 82.78 0 0 0 -63.30 53.34 Z" fill="#f99e59"/>
<path d="M-74.77 52.58 A91.41 91.41 0 0 1 -79.26 45.54 L-71.77 41.24 A82.78 82.78 0 0 0 -67.71 47.62 Z" fill="#f78d50"/>
<path d="M-79.06 45.87 A91.41 91.41 0 0 1 -82.92 38.46 L-75.10 34.83 A82.78 82.78 0 0 0 -71.60 41.54 Z" fill="#fbdf9e"/>
<path d="M-82.76 38.80 A91.41 91.41 0 0 1 -85.96 31.08 L-77.84 28.15 A82.78 82.78 0 0 0 -74.95 35.14 Z" fill="#fbb167"/>
<path d="M-85.83 31.44 A91.41 91.41 0 0 1 -90.05 15.68 L-81.55 14.20 A82.78 82.78 0 0 0 -77.73 28.47 Z" fill="#f78d50"/>
<path d="M-89.98 16.06 A91.41 91.41 0 0 1 -91.07 7.78 L-82.48 7.04 A82.78 82.78 0 0 0 -81.49 14.54 Z" fill="#fbdf9e"/>
<path d="M-91.04 8.16 A91.41 91.41 0 0 1 -89.98 -16.06 L-81.49 -14.54 A82.78 82.78 0 0 0 -82.45 7.39 Z" fill="#f47d48"/>
<path d="M-90.05 -15.68 A91.41 91.41 0 0 1 -69.90 -58.90 L-63.30 -53.34 A82.78 82.78 0 0 0 -81.55 -14.20 Z" fill="#f78d50"/>
<path d="M-70.14 -58.61 A91.41 91.41 0 0 1 -64.50 -64.77 L-58.41 -58.66 A82.78 82.78 0 0 0 -63.52 -53.08 Z" fill="#a8d0e8"/>
<path d="M-64.77 -64.50 A91.41 91.41 0 0 1 -58.61 -70.14 L-53.08 -63.52 A82.78 82.78 0 0 0 -58.66 -58.41 Z" fill="#dcecf1"/>
<path d="M-58.90 -69.90 A91.41 91.41 0 0 1 -52.27 -74.98 L-47.34 -67.91 A82.78 82.78 0 0 0 -53.34 -63.30 Z" fill="#f78d50"/>
<path d="M-52.58 -74.77 A91.41 91.41 0 0 1 -38.46 -82.92 L-34.83 -75.10 A82.78 82.78 0 0 0 -47.62 -67.71 Z" fill="#f99e59"/>
<path d="M-38.80 -82.76 A91.41 91.41 0 0 1 -15.68 -90.05 L-14.20 -81.55 A82.78 82.78 0 0 0 -35.14 -74.95 Z" fill="#f78d50"/>
<path d="M-16.06 -89.98 A91.41 91.41 0 0 1 -7.78 -91.07 L-7.04 -82.48 A82.78 82.78 0 0 0 -14.54 -81.49 Z" fill="#f0e8c8"/>
<path d="M-8.16 -91.04 A91.41 91.41 0 0 1 0.19 -91.41 L0.17 -82.78 A82.78 82.78 0 0 0 -7.39 -82.45 Z" fill="#76abd5"/>
<path d="M-0.17 -83.13 A83.13 83.13 0 0 1 7.42 -82.80 L6.65 -74.20 A74.50 74.50 0 0 0 -0.16 -74.50 Z" fill="#2d3c97"/>
<path d="M7.07 -82.83 A83.13 83.13 0 0 1 14.61 -81.83 L13.09 -73.34 A74.50 74.50 0 0 0 6.34 -74.23 Z" fill="#76abd5"/>
<path d="M14.26 -81.89 A83.13 83.13 0 0 1 28.59 -78.05 L25.63 -69.95 A74.50 74.50 0 0 0 12.78 -73.40 Z" fill="#fbdf9e"/>
<path d="M28.27 -78.17 A83.13 83.13 0 0 1 47.82 -67.99 L42.86 -60.94 A74.50 74.50 0 0 0 25.33 -70.06 Z" fill="#f78d50"/>
<path d="M47.54 -68.19 A83.13 83.13 0 0 1 53.57 -63.57 L48.01 -56.97 A74.50 74.50 0 0 0 42.60 -61.12 Z" fill="#fbb167"/>
<path d="M53.30 -63.79 A83.13 83.13 0 0 1 58.90 -58.66 L52.79 -52.57 A74.50 74.50 0 0 0 47.77 -57.17 Z" fill="#fdc97e"/>
<path d="M58.66 -58.90 A83.13 83.13 0 0 1 63.79 -53.30 L57.17 -47.77 A74.50 74.50 0 0 0 52.57 -52.79 Z" fill="#f99e59"/>
<path d="M63.57 -53.57 A83.13 83.13 0 0 1 78.17 -28.27 L70.06 -25.33 A74.50 74.50 0 0 0 56.97 -48.01 Z" fill="#f47d48"/>
<path d="M78.05 -28.59 A83.13 83.13 0 0 1 82.83 -7.07 L74.23 -6.34 A74.50 74.50 0 0 0 69.95 -25.63 Z" fill="#fbb167"/>
<path d="M82.80 -7.42 A83.13 83.13 0 0 1 83.13 0.17 L74.50 0.16 A74.50 74.50 0 0 0 74.20 -6.65 Z" fill="#f99e59"/>
<path d="M83.13 -0.17 A83.13 83.13 0 0 1 81.83 14.61 L73.34 13.09 A74.50 74.50 0 0 0 74.50 -0.16 Z" fill="#f78d50"/>
<path d="M81.89 14.26 A83.13 83.13 0 0 1 80.25 21.68 L71.92 19.43 A74.50 74.50 0 0 0 73.40 12.78 Z" fill="#f99e59"/>
<path d="M80.34 21.35 A83.13 83.13 0 0 1 78.05 28.59 L69.95 25.63 A74.50 74.50 0 0 0 72.00 19.13 Z" fill="#dcecf1"/>
<path d="M78.17 28.27 A83.13 83.13 0 0 1 75.27 35.29 L67.45 31.63 A74.50 74.50 0 0 0 70.06 25.33 Z" fill="#f0e8c8"/>
<path d="M75.41 34.97 A83.13 83.13 0 0 1 71.90 41.71 L64.44 37.39 A74.50 74.50 0 0 0 67.59 31.34 Z" fill="#76abd5"/>
<path d="M72.08 41.41 A83.13 83.13 0 0 1 67.99 47.82 L60.94 42.86 A74.50 74.50 0 0 0 64.60 37.11 Z" fill="#f99e59"/>
<path d="M68.19 47.54 A83.13 83.13 0 0 1 58.66 58.90 L52.57 52.79 A74.50 74.50 0 0 0 61.12 42.60 Z" fill="#f78d50"/>
<path d="M58.90 58.66 A83.13 83.13 0 0 1 53.30 63.79 L47.77 57.17 A74.50 74.50 0 0 0 52.79 52.57 Z" fill="#f99e59"/>
<path d="M53.57 63.57 A83.13 83.13 0 0 1 28.27 78.17 L25.33 70.06 A74.50 74.50 0 0 0 48.01 56.97 Z" fill="#f78d50"/>
<path d="M28.59 78.05 A83.13 83.13 0 0 1 21.35 80.34 L19.13 72.00 A74.50 74.50 0 0 0 25.63 69.95 Z" fill="#f47d48"/>
<path d="M21.68 80.25 A83.13 83.13 0 0 1 14.26 81.89 L12.78 73.40 A74.50 74.50 0 0 0 19.43 71.92 Z" fill="#f78d50"/>
<path d="M14.61 81.83 A83.13 83.13 0 0 1 -0.17 83.13 L-0.16 74.50 A74.50 74.50 0 0 0 13.09 73.34 Z" fill="#f99e59"/>
<path d="M0.17 83.13 A83.13 83.13 0 0 1 -7.42 82.80 L-6.65 74.20 A74.50 74.50 0 0 0 0.16 74.50 Z" fill="#fdc97e"/>
<path d="M-7.07 82.83 A83.13 83.13 0 0 1 -28.59 78.05 L-25.63 69.95 A74.50 74.50 0 0 0 -6.34 74.23 Z" fill="#dcecf1"/>
<path d="M-28.27 78.17 A83.13 83.13 0 0 1 -35.29 75.27 L-31.63 67.45 A74.50 74.50 0 0 0 -25.33 70.06 Z" fill="#76abd5"/>
<path d="M-34.97 75.41 A83.13 83.13 0 0 1 -41.71 71.90 L-37.39 64.44 A74.50 74.50 0 0 0 -31.34 67.59 Z" fill="#f78d50"/>
<path d="M-41.41 72.08 A83.13 83.13 0 0 1 -47.82 67.99 L-42.86 60.94 A74.50 74.50 0 0 0 -37.11 64.60 Z" fill="#f0e8c8"/>
<path d="M-47.54 68.19 A83.13 83.13 0 0 1 -53.57 63.57 L-48.01 56.97 A74.50 74.50 0 0 0 -42.60 61.12 Z" fill="#dcecf1"/>
<path d="M-53.30 63.79 A83.13 83.13 0 0 1 -58.90 58.66 L-52.79 52.57 A74.50 74.50 0 0 0 -47.77 57.17 Z" fill="#f78d50"/>
<path d="M-58.66 58.90 A83.13 83.13 0 0 1 -63.79 53.30 L-57.17 47.77 A74.50 74.50 0 0 0 -52.57 52.79 Z" fill="#f47d48"/>
<path d="M-63.57 53.57 A83.13 83.13 0 0 1 -68.19 47.54 L-61.12 42.60 A74.50 74.50 0 0 0 -56.97 48.01 Z" fill="#f78d50"/>
<path d="M-67.99 47.82 A83.13 83.13 0 0 1 -72.08 41.41 L-64.60 37.11 A74.50 74.50 0 0 0 -60.94 42.86 Z" fill="#f99e59"/>
<path d="M-71.90 41.71 A83.13 83.13 0 0 1 -75.41 34.97 L-67.59 31.34 A74.50 74.50 0 0 0 -64.44 37.39 Z" fill="#f78d50"/>
<path d="M-75.27 35.29 A83.13 83.13 0 0 1 -78.17 28.27 L-70.06 25.33 A74.50 74.50 0 0 0 -67.45 31.63 Z" fill="#f0e8c8"/>
<path d="M-78.05 28.59 A83.13 83.13 0 0 1 -80.34 21.35 L-72.00 19.13 A74.50 74.50 0 0 0 -69.95 25.63 Z" fill="#f78d50"/>
<path d="M-80.25 21.68 A83.13 83.13 0 0 1 -81.89 14.26 L-73.40 12.78 A74.50 74.50 0 0 0 -71.92 19.43 Z" fill="#f99e59"/>
<path d="M-81.83 14.61 A83.13 83.13 0 0 1 -83.13 -0.17 L-74.50 -0.16 A74.50 74.50 0 0 0 -73.34 13.09 Z" fill="#f78d50"/>
<path d="M-83.13 0.17 A83.13 83.13 0 0 1 -82.80 -7.42 L-74.20 -6.65 A74.50 74.50 0 0 0 -74.50 0.16 Z" fill="#f47d48"/>
<path d="M-82.83 -7.07 A83.13 83.13 0 0 1 -75.27 -35.29 L-67.45 -31.63 A74.50 74.50 0 0 0 -74.23 -6.34 Z" fill="#f78d50"/>
<path d="M-75.41 -34.97 A83.13 83.13 0 0 1 -63.57 -53.57 L-56.97 -48.01 A74.50 74.50 0 0 0 -67.59 -31.34 Z" fill="#f47d48"/>
<path d="M-63.79 -53.30 A83.13 83.13 0 0 1 -58.66 -58.90 L-52.57 -52.79 A74.50 74.50 0 0 0 -57.17 -47.77 Z" fill="#f78d50"/>
<path d="M-58.90 -58.66 A83.13 83.13 0 0 1 -41.41 -72.08 L-37.11 -64.60 A74.50 74.50 0 0 0 -52.79 -52.57 Z" fill="#f47d48"/>
<path d="M-41.71 -71.90 A83.13 83.13 0 0 1 -34.97 -75.41 L-31.34 -67.59 A74.50 74.50 0 0 0 -37.39 -64.44 Z" fill="#fbb167"/>
<path d="M-35.29 -75.27 A83.13 83.13 0 0 1 -28.27 -78.17 L-25.33 -70.06 A74.50 74.50 0 0 0 -31.63 -67.45 Z" fill="#f78d50"/>
<path d="M-28.59 -78.05 A83.13 83.13 0 0 1 -21.35 -80.34 L-19.13 -72.00 A74.50 74.50 0 0 0 -25.63 -69.95 Z" fill="#f47d48"/>
<path d="M-21.68 -80.25 A83.13 83.13 0 0 1 -14.26 -81.89 L-12.78 -73.40 A74.50 74.50 0 0 0 -19.43 -71.92 Z" fill="#f99e59"/>
<path d="M-14.61 -81.83 A83.13 83.13 0 0 1 -7.07 -82.83 L-6.34 -74.23 A74.50 74.50 0 0 0 -13.09 -73.34 Z" fill="#f78d50"/>
<path d="M-7.42 -82.80 A83.13 83.13 0 0 1 0.17 -83.13 L0.16 -74.50 A74.50 74.50 0 0 0 -6.65 -74.20 Z" fill="#f0e8c8"/>
<path d="M-0.16 -74.85 A74.85 74.85 0 0 1 6.68 -74.55 L5.91 -65.96 A66.22 66.22 0 0 0 -0.14 -66.22 Z" fill="#a8d0e8"/>
<path d="M6.37 -74.58 A74.85 74.85 0 0 1 13.15 -73.69 L11.64 -65.19 A66.22 66.22 0 0 0 5.63 -65.98 Z" fill="#fbdf9e"/>
<path d="M12.84 -73.74 A74.85 74.85 0 0 1 25.75 -70.28 L22.78 -62.18 A66.22 66.22 0 0 0 11.36 -65.24 Z" fill="#dcecf1"/>
<path d="M25.45 -70.39 A74.85 74.85 0 0 1 31.77 -67.77 L28.11 -59.96 A66.22 66.22 0 0 0 22.52 -62.28 Z" fill="#76abd5"/>
<path d="M31.49 -67.90 A74.85 74.85 0 0 1 37.56 -64.74 L33.23 -57.28 A66.22 66.22 0 0 0 27.86 -60.08 Z" fill="#dcecf1"/>
<path d="M37.29 -64.90 A74.85 74.85 0 0 1 48.23 -57.24 L42.67 -50.64 A66.22 66.22 0 0 0 32.99 -57.42 Z" fill="#fbdf9e"/>
<path d="M47.99 -57.44 A74.85 74.85 0 0 1 53.04 -52.82 L46.92 -46.73 A66.22 66.22 0 0 0 42.46 -50.82 Z" fill="#f99e59"/>
<path d="M52.82 -53.04 A74.85 74.85 0 0 1 57.44 -47.99 L50.82 -42.46 A66.22 66.22 0 0 0 46.73 -46.92 Z" fill="#f78d50"/>
<path d="M57.24 -48.23 A74.85 74.85 0 0 1 61.40 -42.80 L54.33 -37.87 A66.22 66.22 0 0 0 50.64 -42.67 Z" fill="#f99e59"/>
<path d="M61.22 -43.06 A74.85 74.85 0 0 1 64.90 -37.29 L57.42 -32.99 A66.22 66.22 0 0 0 54.17 -38.10 Z" fill="#f78d50"/>
<path d="M64.74 -37.56 A74.85 74.85 0 0 1 67.90 -31.49 L60.08 -27.86 A66.22 66.22 0 0 0 57.28 -33.23 Z" fill="#f47d48"/>
<path d="M67.77 -31.77 A74.85 74.85 0 0 1 72.34 -19.22 L64.00 -17.01 A66.22 66.22 0 0 0 59.96 -28.11 Z" fill="#f78d50"/>
<path d="M72.26 -19.52 A74.85 74.85 0 0 1 73.74 -12.84 L65.24 -11.36 A66.22 66.22 0 0 0 63.93 -17.27 Z" fill="#fbb167"/>
<path d="M73.69 -13.15 A74.85 74.85 0 0 1 74.85 0.16 L66.22 0.14 A66.22 66.22 0 0 0 65.19 -11.64 Z" fill="#f99e59"/>
<path d="M74.85 -0.16 A74.85 74.85 0 0 1 74.55 6.68 L65.96 5.91 A66.22 66.22 0 0 0 66.22 -0.14 Z" fill="#f47d48"/>
<path d="M74.58 6.37 A74.85 74.85 0 0 1 73.69 13.15 L65.19 11.64 A66.22 66.22 0 0 0 65.98 5.63 Z" fill="#f78d50"/>
<path d="M73.74 12.84 A74.85 74.85 0 0 1 72.26 19.52 L63.93 17.27 A66.22 66.22 0 0 0 65.24 11.36 Z" fill="#f99e59"/>
<path d="M72.34 19.22 A74.85 74.85 0 0 1 70.28 25.75 L62.18 22.78 A66.22 66.22 0 0 0 64.00 17.01 Z" fill="#fbb167"/>
<path d="M70.39 25.45 A74.85 74.85 0 0 1 67.77 31.77 L59.96 28.11 A66.22 66.22 0 0 0 62.28 22.52 Z" fill="#f78d50"/>
<path d="M67.90 31.49 A74.85 74.85 0 0 1 47.99 57.44 L42.46 50.82 A66.22 66.22 0 0 0 60.08 27.86 Z" fill="#f99e59"/>
<path d="M48.23 57.24 A74.85 74.85 0 0 1 37.29 64.90 L32.99 57.42 A66.22 66.22 0 0 0 42.67 50.64 Z" fill="#fbb167"/>
<path d="M37.56 64.74 A74.85 74.85 0 0 1 25.45 70.39 L22.52 62.28 A66.22 66.22 0 0 0 33.23 57.28 Z" fill="#f78d50"/>
<path d="M25.75 70.28 A74.85 74.85 0 0 1 19.22 72.34 L17.01 64.00 A66.22 66.22 0 0 0 22.78 62.18 Z" fill="#f99e59"/>
<path d="M19.52 72.26 A74.85 74.85 0 0 1 6.37 74.58 L5.63 65.98 A66.22 66.22 0 0 0 17.27 63.93 Z" fill="#f0e8c8"/>
<path d="M6.68 74.55 A74.85 74.85 0 0 1 -0.16 74.85 L-0.14 66.22 A66.22 66.22 0 0 0 5.91 65.96 Z" fill="#dcecf1"/>
<path d="M0.16 74.85 A74.85 74.85 0 0 1 -19.52 72.26 L-17.27 63.93 A66.22 66.22 0 0 0 0.14 66.22 Z" fill="#76abd5"/>
<path d="M-19.22 72.34 A74.85 74.85 0 0 1 -25.75 70.28 L-22.78 62.18 A66.22 66.22 0 0 0 -17.01 64.00 Z" fill="#a8d0e8"/>
<path d="M-25.45 70.39 A74.85 74.85 0 0 1 -31.77 67.77 L-28.11 59.96 A66.22 66.22 0 0 0 -22.52 62.28 Z" fill="#f78d50"/>
<path d="M-31.49 67.90 A74.85 74.85 0 0 1 -37.56 64.74 L-33.23 57.28 A66.22 66.22 0 0 0 -27.86 60.08 Z" fill="#f99e59"/>
<path d="M-37.29 64.90 A74.85 74.85 0 0 1 -43.06 61.22 L-38.10 54.17 A66.22 66.22 0 0 0 -32.99 57.42 Z" fill="#f78d50"/>
<path d="M-42.80 61.40 A74.85 74.85 0 0 1 -48.23 57.24 L-42.67 50.64 A66.22 66.22 0 0 0 -37.87 54.33 Z" fill="#f99e59"/>
<path d="M-47.99 57.44 A74.85 74.85 0 0 1 -53.04 52.82 L-46.92 46.73 A66.22 66.22 0 0 0 -42.46 50.82 Z" fill="#76abd5"/>
<path d="M-52.82 53.04 A74.85 74.85 0 0 1 -57.44 47.99 L-50.82 42.46 A66.22 66.22 0 0 0 -46.73 46.92 Z" fill="#f47d48"/>
<path d="M-57.24 48.23 A74.85 74.85 0 0 1 -70.39 25.45 L-62.28 22.52 A66.22 66.22 0 0 0 -50.64 42.67 Z" fill="#f78d50"/>
<path d="M-70.28 25.75 A74.85 74.85 0 0 1 -73.74 12.84 L-65.24 11.36 A66.22 66.22 0 0 0 -62.18 22.78 Z" fill="#f99e59"/>
<path d="M-73.69 13.15 A74.85 74.85 0 0 1 -72.26 -19.52 L-63.93 -17.27 A66.22 66.22 0 0 0 -65.19 11.64 Z" fill="#f78d50"/>
<path d="M-72.34 -19.22 A74.85 74.85 0 0 1 -67.77 -31.77 L-59.96 -28.11 A66.22 66.22 0 0 0 -64.00 -17.01 Z" fill="#fbb167"/>
<path d="M-67.90 -31.49 A74.85 74.85 0 0 1 -64.74 -37.56 L-57.28 -33.23 A66.22 66.22 0 0 0 -60.08 -27.86 Z" fill="#f99e59"/>
<path d="M-64.90 -37.29 A74.85 74.85 0 0 1 -57.24 -48.23 L-50.64 -42.67 A66.22 66.22 0 0 0 -57.42 -32.99 Z" fill="#f78d50"/>
<path d="M-57.44 -47.99 A74.85 74.85 0 0 1 -52.82 -53.04 L-46.73 -46.92 A66.22 66.22 0 0 0 -50.82 -42.46 Z" fill="#f99e59"/>
<path d="M-53.04 -52.82 A74.85 74.85 0 0 1 -25.45 -70.39 L-22.52 -62.28 A66.22 66.22 0 0 0 -46.92 -46.73 Z" fill="#f78d50"/>
<path d="M-25.75 -70.28 A74.85 74.85 0 0 1 -19.22 -72.34 L-17.01 -64.00 A66.22 66.22 0 0 0 -22.78 -62.18 Z" fill="#f47d48"/>
<path d="M-19.52 -72.26 A74.85 74.85 0 0 1 -6.37 -74.58 L-5.63 -65.98 A66.22 66.22 0 0 0 -17.27 -63.93 Z" fill="#f99e59"/>
<path d="M-6.68 -74.55 A74.85 74.85 0 0 1 0.16 -74.85 L0.14 -66.22 A66.22 66.22 0 0 0 -5.91 -65.96 Z" fill="#4a7bbf"/>
<path d="M-0.14 -66.57 A66.57 66.57 0 0 1 11.70 -65.54 L10.18 -57.04 A57.94 57.94 0 0 0 -0.12 -57.94 Z" fill="#fbb167"/>
<path d="M11.42 -65.58 A66.57 66.57 0 0 1 17.36 -64.27 L15.11 -55.94 A57.94 57.94 0 0 0 9.94 -57.09 Z" fill="#f78d50"/>
<path d="M17.10 -64.34 A66.57 66.57 0 0 1 28.26 -60.28 L24.60 -52.46 A57.94 57.94 0 0 0 14.88 -56.00 Z" fill="#a8d0e8"/>
<path d="M28.01 -60.39 A66.57 66.57 0 0 1 33.41 -57.58 L29.08 -50.12 A57.94 57.94 0 0 0 24.38 -52.57 Z" fill="#dcecf1"/>
<path d="M33.17 -57.72 A66.57 66.57 0 0 1 47.17 -46.97 L41.06 -40.89 A57.94 57.94 0 0 0 28.87 -50.24 Z" fill="#76abd5"/>
<path d="M46.97 -47.17 A66.57 66.57 0 0 1 54.61 -38.07 L47.53 -33.14 A57.94 57.94 0 0 0 40.89 -41.06 Z" fill="#dcecf1"/>
<path d="M54.45 -38.30 A66.57 66.57 0 0 1 57.72 -33.17 L50.24 -28.87 A57.94 57.94 0 0 0 47.40 -33.33 Z" fill="#f99e59"/>
<path d="M57.58 -33.41 A66.57 66.57 0 0 1 60.39 -28.01 L52.57 -24.38 A57.94 57.94 0 0 0 50.12 -29.08 Z" fill="#dcecf1"/>
<path d="M60.28 -28.26 A66.57 66.57 0 0 1 62.60 -22.64 L54.49 -19.70 A57.94 57.94 0 0 0 52.46 -24.60 Z" fill="#f99e59"/>
<path d="M62.51 -22.90 A66.57 66.57 0 0 1 64.34 -17.10 L56.00 -14.88 A57.94 57.94 0 0 0 54.41 -19.93 Z" fill="#f78d50"/>
<path d="M64.27 -17.36 A66.57 66.57 0 0 1 65.58 -11.42 L57.09 -9.94 A57.94 57.94 0 0 0 55.94 -15.11 Z" fill="#f99e59"/>
<path d="M65.54 -11.70 A66.57 66.57 0 0 1 62.51 22.90 L54.41 19.93 A57.94 57.94 0 0 0 57.04 -10.18 Z" fill="#f78d50"/>
<path d="M62.60 22.64 A66.57 66.57 0 0 1 60.28 28.26 L52.46 24.60 A57.94 57.94 0 0 0 54.49 19.70 Z" fill="#f99e59"/>
<path d="M60.39 28.01 A66.57 66.57 0 0 1 28.01 60.39 L24.38 52.57 A57.94 57.94 0 0 0 52.57 24.38 Z" fill="#f78d50"/>
<path d="M28.26 60.28 A66.57 66.57 0 0 1 22.64 62.60 L19.70 54.49 A57.94 57.94 0 0 0 24.60 52.46 Z" fill="#f0e8c8"/>
<path d="M22.90 62.51 A66.57 66.57 0 0 1 17.10 64.34 L14.88 56.00 A57.94 57.94 0 0 0 19.93 54.41 Z" fill="#dcecf1"/>
<path d="M17.36 64.27 A66.57 66.57 0 0 1 5.66 66.33 L4.93 57.73 A57.94 57.94 0 0 0 15.11 55.94 Z" fill="#76abd5"/>
<path d="M5.94 66.31 A66.57 66.57 0 0 1 -0.14 66.57 L-0.12 57.94 A57.94 57.94 0 0 0 5.17 57.71 Z" fill="#f78d50"/>
<path d="M0.14 66.57 A66.57 66.57 0 0 1 -11.70 65.54 L-10.18 57.04 A57.94 57.94 0 0 0 0.12 57.94 Z" fill="#fbb167"/>
<path d="M-11.42 65.58 A66.57 66.57 0 0 1 -17.36 64.27 L-15.11 55.94 A57.94 57.94 0 0 0 -9.94 57.09 Z" fill="#fdc97e"/>
<path d="M-17.10 64.34 A66.57 66.57 0 0 1 -28.26 60.28 L-24.60 52.46 A57.94 57.94 0 0 0 -14.88 56.00 Z" fill="#a8d0e8"/>
<path d="M-28.01 60.39 A66.57 66.57 0 0 1 -42.90 50.91 L-37.34 44.31 A57.94 57.94 0 0 0 -24.38 52.57 Z" fill="#f78d50"/>
<path d="M-42.68 51.09 A66.57 66.57 0 0 1 -51.09 42.68 L-44.47 37.15 A57.94 57.94 0 0 0 -37.15 44.47 Z" fill="#f47d48"/>
<path d="M-50.91 42.90 A66.57 66.57 0 0 1 -57.72 33.17 L-50.24 28.87 A57.94 57.94 0 0 0 -44.31 37.34 Z" fill="#f99e59"/>
<path d="M-57.58 33.41 A66.57 66.57 0 0 1 -60.39 28.01 L-52.57 24.38 A57.94 57.94 0 0 0 -50.12 29.08 Z" fill="#f78d50"/>
<path d="M-60.28 28.26 A66.57 66.57 0 0 1 -64.34 17.10 L-56.00 14.88 A57.94 57.94 0 0 0 -52.46 24.60 Z" fill="#fbb167"/>
<path d="M-64.27 17.36 A66.57 66.57 0 0 1 -65.58 11.42 L-57.09 9.94 A57.94 57.94 0 0 0 -55.94 15.11 Z" fill="#f99e59"/>
<path d="M-65.54 11.70 A66.57 66.57 0 0 1 -66.31 -5.94 L-57.71 -5.17 A57.94 57.94 0 0 0 -57.04 10.18 Z" fill="#f78d50"/>
<path d="M-66.33 -5.66 A66.57 66.57 0 0 1 -62.51 -22.90 L-54.41 -19.93 A57.94 57.94 0 0 0 -57.73 -4.93 Z" fill="#dcecf1"/>
<path d="M-62.60 -22.64 A66.57 66.57 0 0 1 -57.58 -33.41 L-50.12 -29.08 A57.94 57.94 0 0 0 -54.49 -19.70 Z" fill="#f0e8c8"/>
<path d="M-57.72 -33.17 A66.57 66.57 0 0 1 -50.91 -42.90 L-44.31 -37.34 A57.94 57.94 0 0 0 -50.24 -28.87 Z" fill="#fbb167"/>
<path d="M-51.09 -42.68 A66.57 66.57 0 0 1 -46.97 -47.17 L-40.89 -41.06 A57.94 57.94 0 0 0 -44.47 -37.15 Z" fill="#fbdf9e"/>
<path d="M-47.17 -46.97 A66.57 66.57 0 0 1 -42.68 -51.09 L-37.15 -44.47 A57.94 57.94 0 0 0 -41.06 -40.89 Z" fill="#fbb167"/>
<path d="M-42.90 -50.91 A66.57 66.57 0 0 1 -38.07 -54.61 L-33.14 -47.53 A57.94 57.94 0 0 0 -37.34 -44.31 Z" fill="#f99e59"/>
<path d="M-38.30 -54.45 A66.57 66.57 0 0 1 -33.17 -57.72 L-28.87 -50.24 A57.94 57.94 0 0 0 -33.33 -47.40 Z" fill="#f78d50"/>
<path d="M-33.41 -57.58 A66.57 66.57 0 0 1 -22.64 -62.60 L-19.70 -54.49 A57.94 57.94 0 0 0 -29.08 -50.12 Z" fill="#f47d48"/>
<path d="M-22.90 -62.51 A66.57 66.57 0 0 1 -11.42 -65.58 L-9.94 -57.09 A57.94 57.94 0 0 0 -19.93 -54.41 Z" fill="#f78d50"/>
<path d="M-11.70 -65.54 A66.57 66.57 0 0 1 0.14 -66.57 L0.12 -57.94 A57.94 57.94 0 0 0 -10.18 -57.04 Z" fill="#dcecf1"/>
<path d="M-0.12 -58.29 A58.29 58.29 0 0 1 24.75 -52.78 L21.08 -44.97 A49.67 49.67 0 0 0 -0.10 -49.67 Z" fill="#f78d50"/>
<path d="M24.53 -52.88 A58.29 58.29 0 0 1 33.54 -47.68 L28.57 -40.62 A49.67 49.67 0 0 0 20.90 -45.06 Z" fill="#76abd5"/>
<path d="M33.34 -47.82 A58.29 58.29 0 0 1 41.31 -41.13 L35.19 -35.05 A49.67 49.67 0 0 0 28.40 -40.74 Z" fill="#f78d50"/>
<path d="M41.13 -41.31 A58.29 58.29 0 0 1 44.73 -37.38 L38.11 -31.85 A49.67 49.67 0 0 0 35.05 -35.19 Z" fill="#f0e8c8"/>
<path d="M44.58 -37.56 A58.29 58.29 0 0 1 50.55 -29.04 L43.06 -24.74 A49.67 49.67 0 0 0 37.98 -32.00 Z" fill="#4a7bbf"/>
<path d="M50.42 -29.25 A58.29 58.29 0 0 1 54.82 -19.82 L46.71 -16.89 A49.67 49.67 0 0 0 42.96 -24.92 Z" fill="#76abd5"/>
<path d="M54.74 -20.05 A58.29 58.29 0 0 1 57.43 -10.00 L48.93 -8.52 A49.67 49.67 0 0 0 46.64 -17.08 Z" fill="#f0e8c8"/>
<path d="M57.39 -10.24 A58.29 58.29 0 0 1 58.08 -4.96 L49.49 -4.23 A49.67 49.67 0 0 0 48.89 -8.73 Z" fill="#dcecf1"/>
<path d="M58.06 -5.20 A58.29 58.29 0 0 1 58.29 0.12 L49.67 0.10 A49.67 49.67 0 0 0 49.47 -4.43 Z" fill="#f78d50"/>
<path d="M58.29 -0.12 A58.29 58.29 0 0 1 54.74 20.05 L46.64 17.08 A49.67 49.67 0 0 0 49.67 -0.10 Z" fill="#f0e8c8"/>
<path d="M54.82 19.82 A58.29 58.29 0 0 1 41.13 41.31 L35.05 35.19 A49.67 49.67 0 0 0 46.71 16.89 Z" fill="#a8d0e8"/>
<path d="M41.31 41.13 A58.29 58.29 0 0 1 33.34 47.82 L28.40 40.74 A49.67 49.67 0 0 0 35.19 35.05 Z" fill="#2d3c97"/>
<path d="M33.54 47.68 A58.29 58.29 0 0 1 29.04 50.55 L24.74 43.06 A49.67 49.67 0 0 0 28.57 40.62 Z" fill="#f78d50"/>
<path d="M29.25 50.42 A58.29 58.29 0 0 1 24.53 52.88 L20.90 45.06 A49.67 49.67 0 0 0 24.92 42.96 Z" fill="#a8d0e8"/>
<path d="M24.75 52.78 A58.29 58.29 0 0 1 14.97 56.34 L12.75 48.00 A49.67 49.67 0 0 0 21.08 44.97 Z" fill="#76abd5"/>
<path d="M15.21 56.28 A58.29 58.29 0 0 1 10.00 57.43 L8.52 48.93 A49.67 49.67 0 0 0 12.96 47.95 Z" fill="#4a7bbf"/>
<path d="M10.24 57.39 A58.29 58.29 0 0 1 -0.12 58.29 L-0.10 49.67 A49.67 49.67 0 0 0 8.73 48.89 Z" fill="#f99e59"/>
<path d="M0.12 58.29 A58.29 58.29 0 0 1 -10.24 57.39 L-8.73 48.89 A49.67 49.67 0 0 0 0.10 49.67 Z" fill="#f78d50"/>
<path d="M-10.00 57.43 A58.29 58.29 0 0 1 -20.05 54.74 L-17.08 46.64 A49.67 49.67 0 0 0 -8.52 48.93 Z" fill="#fbb167"/>
<path d="M-19.82 54.82 A58.29 58.29 0 0 1 -29.25 50.42 L-24.92 42.96 A49.67 49.67 0 0 0 -16.89 46.71 Z" fill="#fbdf9e"/>
<path d="M-29.04 50.55 A58.29 58.29 0 0 1 -37.56 44.58 L-32.00 37.98 A49.67 49.67 0 0 0 -24.74 43.06 Z" fill="#fbb167"/>
<path d="M-37.38 44.73 A58.29 58.29 0 0 1 -44.73 37.38 L-38.11 31.85 A49.67 49.67 0 0 0 -31.85 38.11 Z" fill="#f78d50"/>
<path d="M-44.58 37.56 A58.29 58.29 0 0 1 -50.55 29.04 L-43.06 24.74 A49.67 49.67 0 0 0 -37.98 32.00 Z" fill="#f99e59"/>
<path d="M-50.42 29.25 A58.29 58.29 0 0 1 -54.82 19.82 L-46.71 16.89 A49.67 49.67 0 0 0 -42.96 24.92 Z" fill="#fbdf9e"/>
<path d="M-54.74 20.05 A58.29 58.29 0 0 1 -57.43 10.00 L-48.93 8.52 A49.67 49.67 0 0 0 -46.64 17.08 Z" fill="#f0e8c8"/>
<path d="M-57.39 10.24 A58.29 58.29 0 0 1 -58.29 -0.12 L-49.67 -0.10 A49.67 49.67 0 0 0 -48.89 8.73 Z" fill="#76abd5"/>
<path d="M-58.29 0.12 A58.29 58.29 0 0 1 -58.06 -5.20 L-49.47 -4.43 A49.67 49.67 0 0 0 -49.67 0.10 Z" fill="#f78d50"/>
<path d="M-58.08 -4.96 A58.29 58.29 0 0 1 -57.39 -10.24 L-48.89 -8.73 A49.67 49.67 0 0 0 -49.49 -4.23 Z" fill="#dcecf1"/>
<path d="M-57.43 -10.00 A58.29 58.29 0 0 1 -56.28 -15.21 L-47.95 -12.96 A49.67 49.67 0 0 0 -48.93 -8.52 Z" fill="#f78d50"/>
<path d="M-56.34 -14.97 A58.29 58.29 0 0 1 -54.74 -20.05 L-46.64 -17.08 A49.67 49.67 0 0 0 -48.00 -12.75 Z" fill="#f0e8c8"/>
<path d="M-54.82 -19.82 A58.29 58.29 0 0 1 -50.42 -29.25 L-42.96 -24.92 A49.67 49.67 0 0 0 -46.71 -16.89 Z" fill="#dcecf1"/>
<path d="M-50.55 -29.04 A58.29 58.29 0 0 1 -47.68 -33.54 L-40.62 -28.57 A49.67 49.67 0 0 0 -43.06 -24.74 Z" fill="#f0e8c8"/>
<path d="M-47.82 -33.34 A58.29 58.29 0 0 1 -44.58 -37.56 L-37.98 -32.00 A49.67 49.67 0 0 0 -40.74 -28.40 Z" fill="#fbb167"/>
<path d="M-44.73 -37.38 A58.29 58.29 0 0 1 -41.13 -41.31 L-35.05 -35.19 A49.67 49.67 0 0 0 -38.11 -31.85 Z" fill="#a8d0e8"/>
<path d="M-41.31 -41.13 A58.29 58.29 0 0 1 -33.34 -47.82 L-28.40 -40.74 A49.67 49.67 0 0 0 -35.19 -35.05 Z" fill="#fbdf9e"/>
<path d="M-33.54 -47.68 A58.29 58.29 0 0 1 0.12 -58.29 L0.10 -49.67 A49.67 49.67 0 0 0 -28.57 -40.62 Z" fill="#f78d50"/>
<path d="M-0.10 -50.02 A50.02 50.02 0 0 1 8.79 -49.24 L7.27 -40.74 A41.39 41.39 0 0 0 -0.09 -41.39 Z" fill="#f99e59"/>
<path d="M8.58 -49.27 A50.02 50.02 0 0 1 21.23 -45.29 L17.57 -37.47 A41.39 41.39 0 0 0 7.10 -40.78 Z" fill="#f78d50"/>
<path d="M21.04 -45.37 A50.02 50.02 0 0 1 35.44 -35.29 L29.33 -29.21 A41.39 41.39 0 0 0 17.41 -37.55 Z" fill="#fbb167"/>
<path d="M35.29 -35.44 A50.02 50.02 0 0 1 38.38 -32.07 L31.76 -26.54 A41.39 41.39 0 0 0 29.21 -29.33 Z" fill="#f78d50"/>
<path d="M38.25 -32.23 A50.02 50.02 0 0 1 43.37 -24.92 L35.89 -20.62 A41.39 41.39 0 0 0 31.65 -26.67 Z" fill="#f0e8c8"/>
<path d="M43.26 -25.10 A50.02 50.02 0 0 1 47.04 -17.01 L38.92 -14.07 A41.39 41.39 0 0 0 35.80 -20.77 Z" fill="#fbdf9e"/>
<path d="M46.96 -17.21 A50.02 50.02 0 0 1 48.34 -12.84 L40.00 -10.63 A41.39 41.39 0 0 0 38.86 -14.24 Z" fill="#f78d50"/>
<path d="M48.29 -13.05 A50.02 50.02 0 0 1 49.27 -8.58 L40.78 -7.10 A41.39 41.39 0 0 0 39.96 -10.80 Z" fill="#fbb167"/>
<path d="M49.24 -8.79 A50.02 50.02 0 0 1 50.02 0.10 L41.39 0.09 A41.39 41.39 0 0 0 40.74 -7.27 Z" fill="#fbdf9e"/>
<path d="M50.02 -0.10 A50.02 50.02 0 0 1 49.24 8.79 L40.74 7.27 A41.39 41.39 0 0 0 41.39 -0.09 Z" fill="#4a7bbf"/>
<path d="M49.27 8.58 A50.02 50.02 0 0 1 46.96 17.21 L38.86 14.24 A41.39 41.39 0 0 0 40.78 7.10 Z" fill="#f0e8c8"/>
<path d="M47.04 17.01 A50.02 50.02 0 0 1 43.26 25.10 L35.80 20.77 A41.39 41.39 0 0 0 38.92 14.07 Z" fill="#dcecf1"/>
<path d="M43.37 24.92 A50.02 50.02 0 0 1 38.25 32.23 L31.65 26.67 A41.39 41.39 0 0 0 35.89 20.62 Z" fill="#f78d50"/>
<path d="M38.38 32.07 A50.02 50.02 0 0 1 32.07 38.38 L26.54 31.76 A41.39 41.39 0 0 0 31.76 26.54 Z" fill="#a8d0e8"/>
<path d="M32.23 38.25 A50.02 50.02 0 0 1 28.60 41.03 L23.67 33.95 A41.39 41.39 0 0 0 26.67 31.65 Z" fill="#dcecf1"/>
<path d="M28.77 40.91 A50.02 50.02 0 0 1 21.04 45.37 L17.41 37.55 A41.39 41.39 0 0 0 23.81 33.85 Z" fill="#f99e59"/>
<path d="M21.23 45.29 A50.02 50.02 0 0 1 17.01 47.04 L14.07 38.92 A41.39 41.39 0 0 0 17.57 37.47 Z" fill="#f78d50"/>
<path d="M17.21 46.96 A50.02 50.02 0 0 1 12.84 48.34 L10.63 40.00 A41.39 41.39 0 0 0 14.24 38.86 Z" fill="#76abd5"/>
<path d="M13.05 48.29 A50.02 50.02 0 0 1 -17.21 46.96 L-14.24 38.86 A41.39 41.39 0 0 0 10.80 39.96 Z" fill="#f78d50"/>
<path d="M-17.01 47.04 A50.02 50.02 0 0 1 -25.10 43.26 L-20.77 35.80 A41.39 41.39 0 0 0 -14.07 38.92 Z" fill="#f99e59"/>
<path d="M-24.92 43.37 A50.02 50.02 0 0 1 -38.38 32.07 L-31.76 26.54 A41.39 41.39 0 0 0 -20.62 35.89 Z" fill="#f78d50"/>
<path d="M-38.25 32.23 A50.02 50.02 0 0 1 -43.37 24.92 L-35.89 20.62 A41.39 41.39 0 0 0 -31.65 26.67 Z" fill="#76abd5"/>
<path d="M-43.26 25.10 A50.02 50.02 0 0 1 -47.04 17.01 L-38.92 14.07 A41.39 41.39 0 0 0 -35.80 20.77 Z" fill="#dcecf1"/>
<path d="M-46.96 17.21 A50.02 50.02 0 0 1 -49.27 8.58 L-40.78 7.10 A41.39 41.39 0 0 0 -38.86 14.24 Z" fill="#f0e8c8"/>
<path d="M-49.24 8.79 A50.02 50.02 0 0 1 -50.02 -0.10 L-41.39 -0.09 A41.39 41.39 0 0 0 -40.74 7.27 Z" fill="#fbdf9e"/>
<path d="M-50.02 0.10 A50.02 50.02 0 0 1 -49.24 -8.79 L-40.74 -7.27 A41.39 41.39 0 0 0 -41.39 0.09 Z" fill="#f78d50"/>
<path d="M-49.27 -8.58 A50.02 50.02 0 0 1 -46.96 -17.21 L-38.86 -14.24 A41.39 41.39 0 0 0 -40.78 -7.10 Z" fill="#f0e8c8"/>
<path d="M-47.04 -17.01 A50.02 50.02 0 0 1 -45.29 -21.23 L-37.47 -17.57 A41.39 41.39 0 0 0 -38.92 -14.07 Z" fill="#f78d50"/>
<path d="M-45.37 -21.04 A50.02 50.02 0 0 1 -40.91 -28.77 L-33.85 -23.81 A41.39 41.39 0 0 0 -37.55 -17.41 Z" fill="#76abd5"/>
<path d="M-41.03 -28.60 A50.02 50.02 0 0 1 -38.25 -32.23 L-31.65 -26.67 A41.39 41.39 0 0 0 -33.95 -23.67 Z" fill="#f78d50"/>
<path d="M-38.38 -32.07 A50.02 50.02 0 0 1 -32.07 -38.38 L-26.54 -31.76 A41.39 41.39 0 0 0 -31.76 -26.54 Z" fill="#fdc97e"/>
<path d="M-32.23 -38.25 A50.02 50.02 0 0 1 -24.92 -43.37 L-20.62 -35.89 A41.39 41.39 0 0 0 -26.67 -31.65 Z" fill="#4a7bbf"/>
<path d="M-25.10 -43.26 A50.02 50.02 0 0 1 0.10 -50.02 L0.09 -41.39 A41.39 41.39 0 0 0 -20.77 -35.80 Z" fill="#f78d50"/>
<path d="M-0.09 -41.74 A41.74 41.74 0 0 1 20.95 -36.10 L16.62 -28.64 A33.11 33.11 0 0 0 -0.07 -33.11 Z" fill="#f78d50"/>
<path d="M20.79 -36.19 A41.74 41.74 0 0 1 29.58 -29.45 L23.46 -23.36 A33.11 33.11 0 0 0 16.50 -28.71 Z" fill="#f47d48"/>
<path d="M29.45 -29.58 A41.74 41.74 0 0 1 34.24 -23.87 L27.16 -18.93 A33.11 33.11 0 0 0 23.36 -23.46 Z" fill="#f0e8c8"/>
<path d="M34.14 -24.01 A41.74 41.74 0 0 1 36.19 -20.79 L28.71 -16.50 A33.11 33.11 0 0 0 27.08 -19.05 Z" fill="#f78d50"/>
<path d="M36.10 -20.95 A41.74 41.74 0 0 1 37.87 -17.56 L30.04 -13.93 A33.11 33.11 0 0 0 28.64 -16.62 Z" fill="#f0e8c8"/>
<path d="M37.79 -17.72 A41.74 41.74 0 0 1 40.34 -10.72 L32.00 -8.50 A33.11 33.11 0 0 0 29.98 -14.06 Z" fill="#f78d50"/>
<path d="M40.29 -10.89 A41.74 41.74 0 0 1 40.29 10.89 L31.96 8.64 A33.11 33.11 0 0 0 31.96 -8.64 Z" fill="#fdc97e"/>
<path d="M40.34 10.72 A41.74 41.74 0 0 1 36.10 20.95 L28.64 16.62 A33.11 33.11 0 0 0 32.00 8.50 Z" fill="#f47d48"/>
<path d="M36.19 20.79 A41.74 41.74 0 0 1 34.14 24.01 L27.08 19.05 A33.11 33.11 0 0 0 28.71 16.50 Z" fill="#f78d50"/>
<path d="M34.24 23.87 A41.74 41.74 0 0 1 31.92 26.90 L25.32 21.34 A33.11 33.11 0 0 0 27.16 18.93 Z" fill="#f47d48"/>
<path d="M32.03 26.76 A41.74 41.74 0 0 1 23.87 34.24 L18.93 27.16 A33.11 33.11 0 0 0 25.41 21.23 Z" fill="#2d3c97"/>
<path d="M24.01 34.14 A41.74 41.74 0 0 1 17.56 37.87 L13.93 30.04 A33.11 33.11 0 0 0 19.05 27.08 Z" fill="#dcecf1"/>
<path d="M17.72 37.79 A41.74 41.74 0 0 1 10.72 40.34 L8.50 32.00 A33.11 33.11 0 0 0 14.06 29.98 Z" fill="#fbb167"/>
<path d="M10.89 40.29 A41.74 41.74 0 0 1 -20.95 36.10 L-16.62 28.64 A33.11 33.11 0 0 0 8.64 31.96 Z" fill="#f78d50"/>
<path d="M-20.79 36.19 A41.74 41.74 0 0 1 -32.03 26.76 L-25.41 21.23 A33.11 33.11 0 0 0 -16.50 28.71 Z" fill="#dcecf1"/>
<path d="M-31.92 26.90 A41.74 41.74 0 0 1 -39.25 14.19 L-31.14 11.26 A33.11 33.11 0 0 0 -25.32 21.34 Z" fill="#f78d50"/>
<path d="M-39.19 14.36 A41.74 41.74 0 0 1 -41.12 7.16 L-32.62 5.68 A33.11 33.11 0 0 0 -31.09 11.39 Z" fill="#f99e59"/>
<path d="M-41.09 7.33 A41.74 41.74 0 0 1 -41.09 -7.33 L-32.60 -5.82 A33.11 33.11 0 0 0 -32.60 5.82 Z" fill="#4a7bbf"/>
<path d="M-41.12 -7.16 A41.74 41.74 0 0 1 -39.19 -14.36 L-31.09 -11.39 A33.11 33.11 0 0 0 -32.62 -5.68 Z" fill="#76abd5"/>
<path d="M-39.25 -14.19 A41.74 41.74 0 0 1 -36.10 -20.95 L-28.64 -16.62 A33.11 33.11 0 0 0 -31.14 -11.26 Z" fill="#4a7bbf"/>
<path d="M-36.19 -20.79 A41.74 41.74 0 0 1 -34.14 -24.01 L-27.08 -19.05 A33.11 33.11 0 0 0 -28.71 -16.50 Z" fill="#f47d48"/>
<path d="M-34.24 -23.87 A41.74 41.74 0 0 1 -29.45 -29.58 L-23.36 -23.46 A33.11 33.11 0 0 0 -27.16 -18.93 Z" fill="#a8d0e8"/>
<path d="M-29.58 -29.45 A41.74 41.74 0 0 1 -20.79 -36.19 L-16.50 -28.71 A33.11 33.11 0 0 0 -23.46 -23.36 Z" fill="#f0e8c8"/>
<path d="M-20.95 -36.10 A41.74 41.74 0 0 1 -14.19 -39.25 L-11.26 -31.14 A33.11 33.11 0 0 0 -16.62 -28.64 Z" fill="#a8d0e8"/>
<path d="M-14.36 -39.19 A41.74 41.74 0 0 1 0.09 -41.74 L0.07 -33.11 A33.11 33.11 0 0 0 -11.39 -31.09 Z" fill="#f78d50"/>
<path d="M-0.07 -33.46 A33.46 33.46 0 0 1 5.88 -32.94 L4.36 -24.45 A24.83 24.83 0 0 0 -0.05 -24.83 Z" fill="#f78d50"/>
<path d="M5.74 -32.96 A33.46 33.46 0 0 1 14.20 -30.30 L10.54 -22.48 A24.83 24.83 0 0 0 4.26 -24.47 Z" fill="#f47d48"/>
<path d="M14.08 -30.36 A33.46 33.46 0 0 1 32.34 -8.59 L24.00 -6.38 A24.83 24.83 0 0 0 10.45 -22.53 Z" fill="#f78d50"/>
<path d="M32.30 -8.73 A33.46 33.46 0 0 1 33.46 0.07 L24.83 0.05 A24.83 24.83 0 0 0 23.97 -6.48 Z" fill="#f99e59"/>
<path d="M33.46 -0.07 A33.46 33.46 0 0 1 32.30 8.73 L23.97 6.48 A24.83 24.83 0 0 0 24.83 -0.05 Z" fill="#f0e8c8"/>
<path d="M32.34 8.59 A33.46 33.46 0 0 1 23.61 23.71 L17.52 17.60 A24.83 24.83 0 0 0 24.00 6.38 Z" fill="#f78d50"/>
<path d="M23.71 23.61 A33.46 33.46 0 0 1 14.08 30.36 L10.45 22.53 A24.83 24.83 0 0 0 17.60 17.52 Z" fill="#fdc97e"/>
<path d="M14.20 30.30 A33.46 33.46 0 0 1 -2.99 33.33 L-2.22 24.73 A24.83 24.83 0 0 0 10.54 22.48 Z" fill="#f78d50"/>
<path d="M-2.85 33.34 A33.46 33.46 0 0 1 -11.51 31.42 L-8.54 23.32 A24.83 24.83 0 0 0 -2.11 24.74 Z" fill="#f99e59"/>
<path d="M-11.38 31.47 A33.46 33.46 0 0 1 -21.56 25.59 L-16.00 18.99 A24.83 24.83 0 0 0 -8.44 23.35 Z" fill="#f78d50"/>
<path d="M-21.45 25.68 A33.46 33.46 0 0 1 -27.45 19.14 L-20.37 14.20 A24.83 24.83 0 0 0 -15.92 19.06 Z" fill="#f0e8c8"/>
<path d="M-27.37 19.25 A33.46 33.46 0 0 1 -29.01 16.67 L-21.53 12.37 A24.83 24.83 0 0 0 -20.31 14.29 Z" fill="#f78d50"/>
<path d="M-28.94 16.79 A33.46 33.46 0 0 1 -32.34 8.59 L-24.00 6.38 A24.83 24.83 0 0 0 -21.48 12.46 Z" fill="#fbdf9e"/>
<path d="M-32.30 8.73 A33.46 33.46 0 0 1 -33.46 -0.07 L-24.83 -0.05 A24.83 24.83 0 0 0 -23.97 6.48 Z" fill="#fdc97e"/>
<path d="M-33.46 0.07 A33.46 33.46 0 0 1 -33.33 -2.99 L-24.73 -2.22 A24.83 24.83 0 0 0 -24.83 0.05 Z" fill="#f78d50"/>
<path d="M-33.34 -2.85 A33.46 33.46 0 0 1 -31.42 -11.51 L-23.32 -8.54 A24.83 24.83 0 0 0 -24.74 -2.11 Z" fill="#ee6a40"/>
<path d="M-31.47 -11.38 A33.46 33.46 0 0 1 -28.94 -16.79 L-21.48 -12.46 A24.83 24.83 0 0 0 -23.35 -8.44 Z" fill="#f47d48"/>
<path d="M-29.01 -16.67 A33.46 33.46 0 0 1 -25.59 -21.56 L-18.99 -16.00 A24.83 24.83 0 0 0 -21.53 -12.37 Z" fill="#fbb167"/>
<path d="M-25.68 -21.45 A33.46 33.46 0 0 1 0.07 -33.46 L0.05 -24.83 A24.83 24.83 0 0 0 -19.06 -15.92 Z" fill="#f78d50"/>
<path d="M-0.05 -25.18 A25.18 25.18 0 0 1 10.69 -22.80 L7.03 -14.99 A16.56 16.56 0 0 0 -0.03 -16.56 Z" fill="#f78d50"/>
<path d="M10.60 -22.85 A25.18 25.18 0 0 1 17.84 -17.77 L11.73 -11.68 A16.56 16.56 0 0 0 6.97 -15.02 Z" fill="#f99e59"/>
<path d="M17.77 -17.84 A25.18 25.18 0 0 1 22.85 -10.60 L15.02 -6.97 A16.56 16.56 0 0 0 11.68 -11.73 Z" fill="#f78d50"/>
<path d="M22.80 -10.69 A25.18 25.18 0 0 1 25.09 -2.14 L16.50 -1.41 A16.56 16.56 0 0 0 14.99 -7.03 Z" fill="#f99e59"/>
<path d="M25.08 -2.25 A25.18 25.18 0 0 1 25.18 0.05 L16.56 0.03 A16.56 16.56 0 0 0 16.49 -1.48 Z" fill="#f78d50"/>
<path d="M25.18 -0.05 A25.18 25.18 0 0 1 24.31 6.57 L15.98 4.32 A16.56 16.56 0 0 0 16.56 -0.03 Z" fill="#fdc97e"/>
<path d="M24.34 6.47 A25.18 25.18 0 0 1 23.65 8.66 L15.55 5.69 A16.56 16.56 0 0 0 16.00 4.25 Z" fill="#f78d50"/>
<path d="M23.68 8.56 A25.18 25.18 0 0 1 19.26 16.23 L12.66 10.67 A16.56 16.56 0 0 0 15.57 5.63 Z" fill="#f47d48"/>
<path d="M19.33 16.15 A25.18 25.18 0 0 1 12.55 21.84 L8.25 14.35 A16.56 16.56 0 0 0 12.70 10.62 Z" fill="#f78d50"/>
<path d="M12.64 21.78 A25.18 25.18 0 0 1 2.14 25.09 L1.41 16.50 A16.56 16.56 0 0 0 8.31 14.32 Z" fill="#f99e59"/>
<path d="M2.25 25.08 A25.18 25.18 0 0 1 -2.25 25.08 L-1.48 16.49 A16.56 16.56 0 0 0 1.48 16.49 Z" fill="#f78d50"/>
<path d="M-2.14 25.09 A25.18 25.18 0 0 1 -10.69 22.80 L-7.03 14.99 A16.56 16.56 0 0 0 -1.41 16.50 Z" fill="#76abd5"/>
<path d="M-10.60 22.85 A25.18 25.18 0 0 1 -21.84 12.55 L-14.35 8.25 A16.56 16.56 0 0 0 -6.97 15.02 Z" fill="#fbb167"/>
<path d="M-21.78 12.64 A25.18 25.18 0 0 1 -24.81 4.32 L-16.31 2.84 A16.56 16.56 0 0 0 -14.32 8.31 Z" fill="#dcecf1"/>
<path d="M-24.79 4.42 A25.18 25.18 0 0 1 -23.65 -8.66 L-15.55 -5.69 A16.56 16.56 0 0 0 -16.30 2.91 Z" fill="#f78d50"/>
<path d="M-23.68 -8.56 A25.18 25.18 0 0 1 -17.77 -17.84 L-11.68 -11.73 A16.56 16.56 0 0 0 -15.57 -5.63 Z" fill="#ee6a40"/>
<path d="M-17.84 -17.77 A25.18 25.18 0 0 1 -10.60 -22.85 L-6.97 -15.02 A16.56 16.56 0 0 0 -11.73 -11.68 Z" fill="#76abd5"/>
<path d="M-10.69 -22.80 A25.18 25.18 0 0 1 0.05 -25.18 L0.03 -16.56 A16.56 16.56 0 0 0 -7.03 -14.99 Z" fill="#f78d50"/>
<path d="M-0.04 -16.91 A16.91 16.91 0 0 1 4.41 -16.32 L2.16 -7.99 A8.28 8.28 0 0 0 -0.02 -8.28 Z" fill="#f78d50"/>
<path d="M4.34 -16.34 A16.91 16.91 0 0 1 11.98 -11.93 L5.87 -5.84 A8.28 8.28 0 0 0 2.13 -8.00 Z" fill="#a8d0e8"/>
<path d="M11.93 -11.98 A16.91 16.91 0 0 1 13.87 -9.67 L6.79 -4.73 A8.28 8.28 0 0 0 5.84 -5.87 Z" fill="#f0e8c8"/>
<path d="M13.83 -9.73 A16.91 16.91 0 0 1 14.66 -8.42 L7.18 -4.12 A8.28 8.28 0 0 0 6.77 -4.76 Z" fill="#fbb167"/>
<path d="M14.62 -8.48 A16.91 16.91 0 0 1 16.84 -1.44 L8.25 -0.70 A8.28 8.28 0 0 0 7.16 -4.15 Z" fill="#f0e8c8"/>
<path d="M16.84 -1.51 A16.91 16.91 0 0 1 16.91 0.04 L8.28 0.02 A8.28 8.28 0 0 0 8.24 -0.74 Z" fill="#f78d50"/>
<path d="M16.91 -0.04 A16.91 16.91 0 0 1 13.83 9.73 L6.77 4.76 A8.28 8.28 0 0 0 8.28 -0.02 Z" fill="#f99e59"/>
<path d="M13.87 9.67 A16.91 16.91 0 0 1 -4.41 16.32 L-2.16 7.99 A8.28 8.28 0 0 0 6.79 4.73 Z" fill="#f78d50"/>
<path d="M-4.34 16.34 A16.91 16.91 0 0 1 -9.73 13.83 L-4.76 6.77 A8.28 8.28 0 0 0 -2.13 8.00 Z" fill="#a8d0e8"/>
<path d="M-9.67 13.87 A16.91 16.91 0 0 1 -15.34 7.11 L-7.51 3.48 A8.28 8.28 0 0 0 -4.73 6.79 Z" fill="#f78d50"/>
<path d="M-15.31 7.18 A16.91 16.91 0 0 1 -16.84 -1.51 L-8.24 -0.74 A8.28 8.28 0 0 0 -7.49 3.51 Z" fill="#fbdf9e"/>
<path d="M-16.84 -1.44 A16.91 16.91 0 0 1 -16.64 -2.97 L-8.15 -1.45 A8.28 8.28 0 0 0 -8.25 -0.70 Z" fill="#f78d50"/>
<path d="M-16.65 -2.90 A16.91 16.91 0 0 1 -15.31 -7.18 L-7.49 -3.51 A8.28 8.28 0 0 0 -8.16 -1.42 Z" fill="#f0e8c8"/>
<path d="M-15.34 -7.11 A16.91 16.91 0 0 1 -10.84 -12.97 L-5.31 -6.35 A8.28 8.28 0 0 0 -7.51 -3.48 Z" fill="#f47d48"/>
<path d="M-10.89 -12.93 A16.91 16.91 0 0 1 -8.42 -14.66 L-4.12 -7.18 A8.28 8.28 0 0 0 -5.33 -6.33 Z" fill="#f78d50"/>
<path d="M-8.48 -14.62 A16.91 16.91 0 0 1 -7.11 -15.34 L-3.48 -7.51 A8.28 8.28 0 0 0 -4.15 -7.16 Z" fill="#2d3c97"/>
<path d="M-7.18 -15.31 A16.91 16.91 0 0 1 0.04 -16.91 L0.02 -8.28 A8.28 8.28 0 0 0 -3.51 -7.49 Z" fill="#4a7bbf"/>
<path d="M0 0 L-0.02 -8.63 A8.63 8.63 0 0 1 6.11 -6.09 Z" fill="#fbb167"/>
<path d="M0 0 L6.09 -6.11 A8.63 8.63 0 0 1 8.63 0.02 Z" fill="#f0e8c8"/>
<path d="M0 0 L8.63 -0.02 A8.63 8.63 0 0 1 8.49 1.52 Z" fill="#f78d50"/>
<path d="M0 0 L8.50 1.48 A8.63 8.63 0 0 1 6.09 6.11 Z" fill="#76abd5"/>
<path d="M0 0 L6.11 6.09 A8.63 8.63 0 0 1 -0.77 8.59 Z" fill="#f99e59"/>
<path d="M0 0 L-0.73 8.60 A8.63 8.63 0 0 1 -8.11 2.93 Z" fill="#a8d0e8"/>
<path d="M0 0 L-8.10 2.97 A8.63 8.63 0 0 1 -8.63 -0.02 Z" fill="#76abd5"/>
<path d="M0 0 L-8.63 0.02 A8.63 8.63 0 0 1 -5.53 -6.62 Z" fill="#f47d48"/>
<path d="M0 0 L-5.56 -6.60 A8.63 8.63 0 0 1 0.02 -8.63 Z" fill="#4a7bbf"/>
</g>
<g fill="none" stroke="#fff5b8" stroke-width="1">
<ellipse cx="227.0" cy="379.5" rx="151.5" ry="149.0"/>
<ellipse cx="227.0" cy="379.5" rx="101.0" ry="99.3"/>
<ellipse cx="227.0" cy="379.5" rx="50.5" ry="49.7"/>
<path d="M75.5 379.5 H378.5 M227.5 230.5 V528.5"/>
<path d="M119.9 274.1 L334.1 484.9 M119.9 484.9 L334.1 274.1"/>
</g>
<g class="s" stroke="#00ff00" stroke-width="1">
<path d="M202.0 245.5 h7 M205.5 242.0 v7"/>
<path d="M211.0 264.5 h7 M214.5 261.0 v7"/>
<path d="M163.0 276.5 h7 M166.5 273.0 v7"/>
<path d="M253.0 272.5 h7 M256.5 269.0 v7"/>
<path d="M258.0 269.5 h7 M261.5 266.0 v7"/>
<path d="M156.0 300.5 h7 M159.5 297.0 v7"/>
<path d="M150.0 308.5 h7 M153.5 305.0 v7"/>
<path d="M136.0 315.5 h7 M139.5 312.0 v7"/>
<path d="M152.0 319.5 h7 M155.5 316.0 v7"/>
<path d="M185.0 311.5 h7 M188.5 308.0 v7"/>
<path d="M212.0 303.5 h7 M215.5 300.0 v7"/>
<path d="M222.0 303.5 h7 M225.5 300.0 v7"/>
<path d="M255.0 299.5 h7 M258.5 296.0 v7"/>
<path d="M255.0 306.5 h7 M258.5 303.0 v7"/>
<path d="M269.0 302.5 h7 M272.5 299.0 v7"/>
<path d="M278.0 315.5 h7 M281.5 312.0 v7"/>
<path d="M292.0 312.5 h7 M295.5 309.0 v7"/>
<path d="M329.0 308.5 h7 M332.5 305.0 v7"/>
<path d="M87.0 312.5 h7 M90.5 309.0 v7"/>
<path d="M94.0 322.5 h7 M97.5 319.0 v7"/>
<path d="M112.0 327.5 h7 M115.5 324.0 v7"/>
<path d="M114.0 333.5 h7 M117.5 330.0 v7"/>
<path d="M126.0 334.5 h7 M129.5 331.0 v7"/>
<path d="M126.0 342.5 h7 M129.5 339.0 v7"/>
<path d="M103.0 344.5 h7 M106.5 341.0 v7"/>
<path d="M98.0 352.5 h7 M101.5 349.0 v7"/>
<path d="M113.0 364.5 h7 M116.5 361.0 v7"/>
<path d="M152.0 346.5 h7 M155.5 343.0 v7"/>
<path d="M184.0 357.5 h7 M187.5 354.0 v7"/>
<path d="M210.0 345.5 h7 M213.5 342.0 v7"/>
<path d="M216.0 359.5 h7 M219.5 356.0 v7"/>
<path d="M236.0 338.5 h7 M239.5 335.0 v7"/>
<path d="M234.0 363.5 h7 M237.5 360.0 v7"/>
<path d="M224.0 375.5 h7 M227.5 372.0 v7"/>
<path d="M359.0 351.5 h7 M362.5 348.0 v7"/>
<path d="M367.0 378.5 h7 M370.5 375.0 v7"/>
<path d="M144.0 375.5 h7 M147.5 372.0 v7"/>
<path d="M141.0 387.5 h7 M144.5 384.0 v7"/>
<path d="M158.0 386.5 h7 M161.5 383.0 v7"/>
<path d="M234.0 403.5 h7 M237.5 400.0 v7"/>
<path d="M197.0 406.5 h7 M200.5 403.0 v7"/>
<path d="M94.0 413.5 h7 M97.5 410.0 v7"/>
<path d="M144.0 412.5 h7 M147.5 409.0 v7"/>
<path d="M174.0 415.5 h7 M177.5 412.0 v7"/>
<path d="M178.0 425.5 h7 M181.5 422.0 v7"/>
<path d="M131.0 426.5 h7 M134.5 423.0 v7"/>
<path d="M159.0 430.5 h7 M162.5 427.0 v7"/>
<path d="M164.0 435.5 h7 M167.5 432.0 v7"/>
<path d="M173.0 445.5 h7 M176.5 442.0 v7"/>
<path d="M147.0 452.5 h7 M150.5 449.0 v7"/>
<path d="M140.0 468.5 h7 M143.5 465.0 v7"/>
<path d="M171.0 493.5 h7 M174.5 490.0 v7"/>
<path d="M217.0 429.5 h7 M220.5 426.0 v7"/>
<path d="M247.0 421.5 h7 M250.5 418.0 v7"/>
<path d="M270.0 418.5 h7 M273.5 415.0 v7"/>
<path d="M283.0 432.5 h7 M286.5 429.0 v7"/>
<path d="M303.0 408.5 h7 M306.5 405.0 v7"/>
<path d="M331.0 416.5 h7 M334.5 413.0 v7"/>
<path d="M338.0 415.5 h7 M341.5 412.0 v7"/>
<path d="M345.0 420.5 h7 M348.5 417.0 v7"/>
<path d="M353.0 441.5 h7 M356.5 438.0 v7"/>
<path d="M330.0 461.5 h7 M333.5 458.0 v7"/>
<path d="M324.0 470.5 h7 M327.5 467.0 v7"/>
</g><g class="s">
<text transform="translate(207.7,238.8) scale(1,1.10)" text-anchor="middle">C39</text>
<text transform="translate(217.1,258.0) scale(1,1.10)" text-anchor="middle">E19</text>
<text transform="translate(169.1,270.0) scale(1,1.10)" text-anchor="middle">G27</text>
<text transform="translate(259.1,266.0) scale(1,1.10)" text-anchor="middle">G34</text>
<text transform="translate(264.4,263.1) scale(1,1.10)" text-anchor="middle">R20</text>
<text transform="translate(162.4,294.0) scale(1,1.10)" text-anchor="middle">C40</text>
<text transform="translate(155.9,302.2) scale(1,1.10)" text-anchor="middle">E21</text>
<text transform="translate(142.3,308.9) scale(1,1.10)" text-anchor="middle">C07</text>
<text transform="translate(158.2,312.8) scale(1,1.10)" text-anchor="middle">C03</text>
<text transform="translate(191.4,305.2) scale(1,1.10)" text-anchor="middle">J199</text>
<text transform="translate(218.1,296.9) scale(1,1.10)" text-anchor="middle">C19</text>
<text transform="translate(228.2,296.9) scale(1,1.10)" text-anchor="middle">R01</text>
<text transform="translate(260.9,293.1) scale(1,1.10)" text-anchor="middle">C02</text>
<text transform="translate(261.2,300.0) scale(1,1.10)" text-anchor="middle">C04</text>
<text transform="translate(275.5,295.8) scale(1,1.10)" text-anchor="middle">E29</text>
<text transform="translate(284.3,308.9) scale(1,1.10)" text-anchor="middle">G28</text>
<text transform="translate(298.5,305.8) scale(1,1.10)" text-anchor="middle">E20</text>
<text transform="translate(335.3,301.6) scale(1,1.10)" text-anchor="middle">C46</text>
<text transform="translate(92.8,305.7) scale(1,1.10)" text-anchor="middle">R08</text>
<text transform="translate(100.2,316.1) scale(1,1.10)" text-anchor="middle">R26</text>
<text transform="translate(118.3,321.2) scale(1,1.10)" text-anchor="middle">C56</text>
<text transform="translate(119.7,326.8) scale(1,1.10)" text-anchor="middle">J200</text>
<text transform="translate(132.2,327.9) scale(1,1.10)" text-anchor="middle">C10</text>
<text transform="translate(132.1,335.6) scale(1,1.10)" text-anchor="middle">C08</text>
<text transform="translate(108.7,337.8) scale(1,1.10)" text-anchor="middle">C01</text>
<text transform="translate(104.1,345.8) scale(1,1.10)" text-anchor="middle">C60</text>
<text transform="translate(119.1,357.6) scale(1,1.10)" text-anchor="middle">C22</text>
<text transform="translate(158.2,339.5) scale(1,1.10)" text-anchor="middle">E01</text>
<text transform="translate(190.2,350.9) scale(1,1.10)" text-anchor="middle">J196</text>
<text transform="translate(216.4,339.1) scale(1,1.10)" text-anchor="middle">R11</text>
<text transform="translate(222.1,352.7) scale(1,1.10)" text-anchor="middle">G21</text>
<text transform="translate(242.0,331.6) scale(1,1.10)" text-anchor="middle">J195</text>
<text transform="translate(240.1,357.1) scale(1,1.10)" text-anchor="middle">J193</text>
<text transform="translate(229.8,368.6) scale(1,1.10)" text-anchor="middle">C26</text>
<text transform="translate(365.3,345.1) scale(1,1.10)" text-anchor="middle">R16</text>
<text transform="translate(372.9,371.7) scale(1,1.10)" text-anchor="middle">G23</text>
<text transform="translate(149.7,369.0) scale(1,1.10)" text-anchor="middle">R07</text>
<text transform="translate(147.1,380.6) scale(1,1.10)" text-anchor="middle">E13</text>
<text transform="translate(164.3,379.7) scale(1,1.10)" text-anchor="middle">C35</text>
<text transform="translate(240.1,396.9) scale(1,1.10)" text-anchor="middle">E18</text>
<text transform="translate(203.4,400.0) scale(1,1.10)" text-anchor="middle">G19</text>
<text transform="translate(100.2,406.5) scale(1,1.10)" text-anchor="middle">G03</text>
<text transform="translate(150.3,406.3) scale(1,1.10)" text-anchor="middle">E33</text>
<text transform="translate(180.6,408.5) scale(1,1.10)" text-anchor="middle">G02</text>
<text transform="translate(183.7,419.0) scale(1,1.10)" text-anchor="middle">C38</text>
<text transform="translate(137.2,420.0) scale(1,1.10)" text-anchor="middle">C13</text>
<text transform="translate(165.0,423.9) scale(1,1.10)" text-anchor="middle">C06</text>
<text transform="translate(170.1,428.5) scale(1,1.10)" text-anchor="middle">C09</text>
<text transform="translate(179.3,438.9) scale(1,1.10)" text-anchor="middle">R22</text>
<text transform="translate(153.1,446.1) scale(1,1.10)" text-anchor="middle">G01</text>
<text transform="translate(146.4,461.7) scale(1,1.10)" text-anchor="middle">C44</text>
<text transform="translate(177.2,486.8) scale(1,1.10)" text-anchor="middle">E31</text>
<text transform="translate(223.1,422.5) scale(1,1.10)" text-anchor="middle">R06</text>
<text transform="translate(253.0,415.1) scale(1,1.10)" text-anchor="middle">E36</text>
<text transform="translate(276.1,411.8) scale(1,1.10)" text-anchor="middle">E14</text>
<text transform="translate(289.0,426.1) scale(1,1.10)" text-anchor="middle">C20</text>
<text transform="translate(309.2,401.9) scale(1,1.10)" text-anchor="middle">G10</text>
<text transform="translate(337.0,409.9) scale(1,1.10)" text-anchor="middle">E07</text>
<text transform="translate(344.4,408.8) scale(1,1.10)" text-anchor="middle">E13</text>
<text transform="translate(351.1,413.8) scale(1,1.10)" text-anchor="middle">C37</text>
<text transform="translate(359.1,434.8) scale(1,1.10)" text-anchor="middle">C16</text>
<text transform="translate(335.7,454.5) scale(1,1.10)" text-anchor="middle">R15</text>
<text transform="translate(330.0,464.0) scale(1,1.10)" text-anchor="middle">R09</text>
</g>
<path d="M227 379.5 L207.8 373.2" stroke="#ff9800" stroke-width="1.4" fill="none"/>
<path d="M219.6 329 L195.6 406.8" stroke="#ffa500" stroke-width="6.5" fill="none"/>
<path d="M507.5 468.5 L784.1 516.5 L936.9 433.2 L660.3 385.2 Z" fill="none" stroke="#eeeeaa" stroke-width="1"/>
<path d="M507.5 298.5 V468.5" stroke="#eeeeaa" stroke-width="1" fill="none"/>
<path d="M507.5 298.5 h8" stroke="#eeeeaa" stroke-width="1" fill="none"/>
<path d="M507.5 327.5 h8" stroke="#eeeeaa" stroke-width="1" fill="none"/>
<path d="M507.5 355.5 h8" stroke="#eeeeaa" stroke-width="1" fill="none"/>
<path d="M507.5 384.5 h8" stroke="#eeeeaa" stroke-width="1" fill="none"/>
<path d="M507.5 412.5 h8" stroke="#eeeeaa" stroke-width="1" fill="none"/>
<path d="M507.5 440.5 h8" stroke="#eeeeaa" stroke-width="1" fill="none"/>
<path d="M507.5 468.5 l6.1 -3.4 M660.3 385.2 l-6.1 3.4 M535.2 473.3 l3.1 -1.7 M688.0 390.0 l-3.1 1.7 M562.8 478.1 l6.1 -3.4 M715.6 394.8 l-6.1 3.4 M590.5 482.9 l3.1 -1.7 M743.3 399.6 l-3.1 1.7 M618.1 487.7 l6.1 -3.4 M770.9 404.4 l-6.1 3.4 M645.8 492.5 l3.1 -1.7 M798.6 409.2 l-3.1 1.7 M673.5 497.3 l6.1 -3.4 M826.3 414.0 l-6.1 3.4 M701.1 502.1 l3.1 -1.7 M853.9 418.8 l-3.1 1.7 M728.8 506.9 l6.1 -3.4 M881.6 423.6 l-6.1 3.4 M756.4 511.7 l3.1 -1.7 M909.2 428.4 l-3.1 1.7 M784.1 516.5 l6.1 -3.4 M936.9 433.2 l-6.1 3.4 M803.1 506.4 l-7.4 -1.3 M526.5 458.4 l7.4 1.3 M825.4 494.2 l-7.4 -1.3 M548.8 446.2 l7.4 1.3 M847.7 482.0 l-7.4 -1.3 M571.1 434.0 l7.4 1.3 M870.0 469.8 l-7.4 -1.3 M593.4 421.8 l7.4 1.3 M892.3 457.6 l-7.4 -1.3 M615.7 409.6 l7.4 1.3 M914.6 445.4 l-7.4 -1.3 M638.0 397.4 l7.4 1.3 M936.9 433.2 l-7.4 -1.3 M660.3 385.2 l7.4 1.3" stroke="#eeeeaa" stroke-width="1" fill="none"/>
<text x="493.5" y="302.1" text-anchor="end">0</text>
<text x="493.5" y="331.1" text-anchor="end">-20</text>
<text x="493.5" y="359.1" text-anchor="end">-40</text>
<text x="493.5" y="388.1" text-anchor="end">-60</text>
<text x="493.5" y="416.1" text-anchor="end">-80</text>
<text x="493.5" y="444.1" text-anchor="end">-100</text>
<text x="493.5" y="472.1" text-anchor="end">-120</text>
<text transform="translate(447.6,381.6) rotate(-90)" text-anchor="middle">PSD (dBm)</text>
<text x="500.5" y="477.2" text-anchor="middle">20:01:20</text>
<text x="555.8" y="486.8" text-anchor="middle">20:01:40</text>
<text x="611.1" y="496.4" text-anchor="middle">20:02:00</text>
<text x="666.5" y="506.0" text-anchor="middle">20:02:20</text>
<text x="721.8" y="515.6" text-anchor="middle">20:02:40</text>
<text x="777.1" y="525.2" text-anchor="middle">20:03:00</text>
<text transform="translate(600,514) rotate(12.84)" text-anchor="middle" y="5.7">Time (UTC)</text>
<text x="794.6" y="523.8">1210</text>
<text x="816.9" y="511.6">1215</text>
<text x="839.2" y="499.4">1220</text>
<text x="861.5" y="487.2">1225</text>
<text x="883.8" y="475.0">1230</text>
<text x="906.1" y="462.8">1235</text>
<text x="928.4" y="450.6">1240</text>
<text x="950.7" y="438.4">1245</text>
<text transform="translate(932,485.5) rotate(-28.60)" text-anchor="middle" y="5.7">Frequency (MHz)</text>
<defs>
<linearGradient id="wg" gradientUnits="userSpaceOnUse" x1="0" y1="300" x2="0" y2="460">
<stop offset="0" stop-color="#f7efdb"/><stop offset="0.15" stop-color="#f5f0e0"/><stop offset="0.28" stop-color="#eff1e7"/><stop offset="0.40" stop-color="#e6f1f2"/><stop offset="0.53" stop-color="#dbedf5"/><stop offset="0.65" stop-color="#cce4f2"/><stop offset="0.77" stop-color="#b2d4eb"/><stop offset="0.89" stop-color="#95c0e3"/><stop offset="1" stop-color="#7aabd8"/>
</linearGradient>
<linearGradient id="wg2" gradientUnits="userSpaceOnUse" x1="0" y1="336" x2="0" y2="394">
<stop offset="0" stop-color="#eef2ea"/><stop offset="0.35" stop-color="#e4f0f3"/><stop offset="0.6" stop-color="#a9cfe9"/><stop offset="1" stop-color="#7fb2dc"/>
</linearGradient>
<linearGradient id="mg" gradientUnits="userSpaceOnUse" x1="0" y1="300" x2="0" y2="460">
<stop offset="0" stop-color="#fff" stop-opacity="0.0"/><stop offset="0.3" stop-color="#fff" stop-opacity="0.2"/><stop offset="0.6" stop-color="#fff" stop-opacity="0.8"/><stop offset="1" stop-color="#fff" stop-opacity="1"/>
</linearGradient>
<mask id="wm" maskUnits="userSpaceOnUse" x="560" y="295" width="340" height="175"><rect x="560" y="295" width="340" height="175" fill="url(#mg)"/></mask>
<clipPath id="wc"><polygon points="564.5,427.3 565.5,422.4 566.5,423.3 567.5,422.7 568.5,419.0 569.5,419.2 570.5,417.7 571.5,414.7 572.5,411.8 573.5,413.6 574.5,415.0 575.5,413.0 576.5,413.6 577.5,413.0 578.5,410.8 579.5,409.2 580.5,408.1 581.5,407.1 582.5,402.2 583.5,400.1 584.5,396.1 585.5,389.4 586.5,382.9 587.5,378.3 588.5,373.5 589.5,373.9 590.5,366.3 591.5,363.2 592.5,365.3 593.5,359.8 594.5,360.3 595.5,353.9 596.5,356.6 597.5,354.9 598.5,350.3 599.5,351.3 600.5,352.2 601.5,351.8 602.5,351.3 603.5,350.7 604.5,345.9 605.5,349.3 606.5,347.9 607.5,342.9 608.5,344.8 609.5,343.5 610.5,340.1 611.5,341.9 612.5,341.8 613.5,340.8 614.5,339.7 615.5,335.4 616.5,337.4 617.5,338.2 618.5,333.7 619.5,336.6 620.5,333.5 621.5,335.3 622.5,331.0 623.5,333.1 624.5,333.4 625.5,332.5 626.5,331.9 627.5,329.8 628.5,330.9 629.5,330.5 630.5,328.3 631.5,327.4 632.5,324.7 633.5,328.1 634.5,326.2 635.5,326.4 636.5,324.1 637.5,324.3 638.5,319.7 639.5,321.1 640.5,322.7 641.5,322.1 642.5,319.2 643.5,321.6 644.5,320.1 645.5,320.7 646.5,321.0 647.5,318.2 648.5,318.0 649.5,317.2 650.5,319.1 651.5,315.4 652.5,317.9 653.5,314.7 654.5,315.8 655.5,315.5 656.5,316.8 657.5,311.6 658.5,313.2 659.5,312.6 660.5,313.8 661.5,314.3 662.5,313.9 663.5,312.1 664.5,310.4 665.5,310.4 666.5,311.5 667.5,310.8 668.5,310.6 669.5,306.4 670.5,308.9 671.5,309.0 672.5,309.0 673.5,305.7 674.5,304.8 675.5,306.5 676.5,307.8 677.5,304.0 678.5,304.4 679.5,306.0 680.5,304.9 681.5,305.2 682.5,303.0 683.5,303.9 684.5,299.5 685.5,303.8 686.5,299.7 687.5,300.6 688.5,302.2 689.5,302.5 690.5,301.0 691.5,298.9 692.5,303.0 693.5,301.8 694.5,302.5 695.5,302.1 696.5,304.4 697.5,307.2 698.5,310.1 699.5,309.1 700.5,313.2 701.5,313.5 702.5,316.4 703.5,319.8 704.5,316.7 705.5,316.5 706.5,320.6 707.5,318.6 708.5,319.9 709.5,316.9 710.5,316.4 711.5,318.5 712.5,318.0 713.5,318.5 714.5,320.3 715.5,315.7 716.5,318.5 717.5,319.2 718.5,316.0 719.5,319.3 720.5,317.5 721.5,317.6 722.5,315.3 723.5,315.2 724.5,317.4 725.5,317.6 726.5,316.0 727.5,313.6 728.5,312.5 729.5,312.2 730.5,315.9 731.5,315.4 732.5,313.5 733.5,311.8 734.5,314.4 735.5,311.2 736.5,314.3 737.5,309.9 738.5,312.5 739.5,312.6 740.5,312.0 741.5,309.3 742.5,312.7 743.5,311.8 744.5,310.9 745.5,311.6 746.5,308.6 747.5,312.5 748.5,312.7 749.5,309.3 750.5,311.4 751.5,313.6 752.5,311.0 753.5,313.3 754.5,317.4 755.5,316.6 756.5,319.8 757.5,321.8 758.5,321.6 759.5,321.2 760.5,319.9 761.5,320.5 762.5,319.6 763.5,320.7 764.5,318.7 765.5,317.1 766.5,316.9 767.5,317.4 768.5,316.0 769.5,319.1 770.5,319.5 771.5,317.4 772.5,322.5 773.5,323.9 774.5,322.4 775.5,324.0 776.5,327.2 777.5,329.1 778.5,327.7 779.5,325.3 780.5,328.2 781.5,328.0 782.5,329.0 783.5,328.9 784.5,327.1 785.5,326.8 786.5,328.1 787.5,324.6 788.5,323.6 789.5,327.7 790.5,326.5 791.5,327.1 792.5,326.2 793.5,325.8 794.5,325.2 795.5,327.5 796.5,324.9 797.5,327.4 798.5,326.3 799.5,323.7 800.5,324.9 801.5,325.3 802.5,325.3 803.5,322.5 804.5,326.6 805.5,324.1 806.5,323.4 807.5,322.7 808.5,324.0 809.5,323.2 810.5,323.2 811.5,325.0 812.5,325.4 813.5,322.5 814.5,323.5 815.5,320.7 816.5,319.9 817.5,319.9 818.5,316.0 819.5,319.5 820.5,318.7 821.5,322.6 822.5,325.4 823.5,327.3 824.5,328.2 825.5,330.4 826.5,330.9 827.5,329.8 828.5,331.5 829.5,335.0 830.5,337.7 831.5,339.7 832.5,339.6 833.5,339.8 834.5,338.1 835.5,335.9 836.5,338.8 837.5,339.7 838.5,338.4 839.5,340.5 840.5,340.8 841.5,341.3 842.5,341.8 843.5,341.5 844.5,339.8 845.5,338.3 846.5,343.0 847.5,342.0 848.5,338.4 849.5,341.5 850.5,340.3 851.5,338.4 852.5,341.0 853.5,340.6 854.5,342.1 855.5,340.6 856.5,340.7 857.5,340.3 858.5,339.4 859.5,337.9 860.5,335.8 861.5,337.4 862.5,339.6 863.5,336.1 864.5,337.9 865.5,336.1 866.5,337.6 867.5,337.6 868.5,341.1 869.5,339.8 870.5,346.9 871.5,349.5 872.5,351.3 873.5,356.7 874.5,363.1 875.5,370.1 876.5,373.6 877.5,373.9 878.5,371.1 879.5,373.7 880.5,370.2 881.5,371.5 882.5,374.5 883.5,373.2 884.5,375.3 885.5,377.4 886.5,374.8 887.5,376.2 888.5,376.8 889.5,376.4 890.5,374.3 891.5,374.0 892.5,375.1 893.5,379.5 894.5,381.5 894.5,382.7 893.5,385.2 892.5,383.0 891.5,383.6 890.5,384.8 889.5,384.0 888.5,389.6 887.5,385.2 886.5,391.1 885.5,387.0 884.5,393.0 883.5,386.7 882.5,386.7 881.5,387.0 880.5,389.4 879.5,387.6 878.5,392.7 877.5,388.7 876.5,389.6 875.5,391.1 874.5,391.8 873.5,389.3 872.5,389.6 871.5,390.6 870.5,390.1 869.5,395.7 868.5,397.8 867.5,391.5 866.5,394.3 865.5,394.4 864.5,392.6 863.5,393.9 862.5,396.7 861.5,390.7 860.5,396.6 859.5,390.8 858.5,390.1 857.5,389.5 856.5,391.9 855.5,389.3 854.5,389.3 853.5,390.3 852.5,389.3 851.5,393.7 850.5,390.3 849.5,395.7 848.5,389.7 847.5,390.7 846.5,395.6 845.5,396.4 844.5,390.0 843.5,395.8 842.5,393.9 841.5,390.4 840.5,390.5 839.5,393.4 838.5,391.8 837.5,390.2 836.5,391.7 835.5,390.3 834.5,389.4 833.5,387.0 832.5,381.0 831.5,380.3 830.5,377.0 829.5,373.8 828.5,376.6 827.5,376.5 826.5,376.6 825.5,381.6 824.5,376.3 823.5,376.8 822.5,377.7 821.5,380.8 820.5,377.7 819.5,381.7 818.5,380.7 817.5,379.3 816.5,380.7 815.5,379.7 814.5,385.9 813.5,381.9 812.5,380.5 811.5,381.3 810.5,380.5 809.5,381.4 808.5,384.7 807.5,387.1 806.5,383.9 805.5,388.5 804.5,390.7 803.5,389.2 802.5,386.4 801.5,386.0 800.5,390.5 799.5,389.9 798.5,385.8 797.5,387.3 796.5,389.4 795.5,390.5 794.5,394.7 793.5,390.2 792.5,391.4 791.5,391.9 790.5,395.0 789.5,398.2 788.5,392.3 787.5,400.6 786.5,394.4 785.5,395.3 784.5,397.6 783.5,397.2 782.5,399.6 781.5,405.5 780.5,409.3 779.5,409.1 778.5,420.1 777.5,419.4 776.5,431.4 775.5,438.4 774.5,448.9 773.5,453.9 772.5,457.5 771.5,454.5 770.5,462.2 769.5,461.1 768.5,455.7 767.5,459.9 766.5,456.0 765.5,458.2 764.5,457.5 763.5,458.4 762.5,456.2 761.5,456.9 760.5,457.0 759.5,456.2 758.5,457.4 757.5,459.4 756.5,458.3 755.5,456.8 754.5,456.9 753.5,457.2 752.5,457.6 751.5,460.1 750.5,458.7 749.5,464.4 748.5,459.9 747.5,460.5 746.5,465.6 745.5,459.7 744.5,458.5 743.5,459.1 742.5,461.7 741.5,458.3 740.5,456.4 739.5,457.4 738.5,456.2 737.5,457.5 736.5,461.0 735.5,461.8 734.5,456.7 733.5,457.8 732.5,457.7 731.5,460.3 730.5,459.1 729.5,458.3 728.5,460.2 727.5,462.5 726.5,463.6 725.5,460.6 724.5,463.9 723.5,459.2 722.5,458.3 721.5,457.6 720.5,460.3 719.5,456.0 718.5,454.3 717.5,458.1 716.5,453.0 715.5,452.6 714.5,447.9 713.5,443.3 712.5,443.2 711.5,437.5 710.5,437.3 709.5,440.8 708.5,438.8 707.5,443.4 706.5,438.9 705.5,441.6 704.5,438.8 703.5,443.3 702.5,443.2 701.5,441.3 700.5,440.8 699.5,440.8 698.5,442.1 697.5,441.5 696.5,441.9 695.5,448.9 694.5,444.8 693.5,443.4 692.5,442.6 691.5,443.0 690.5,443.0 689.5,443.2 688.5,447.4 687.5,445.4 686.5,444.0 685.5,444.3 684.5,445.6 683.5,449.7 682.5,446.5 681.5,446.4 680.5,446.1 679.5,446.2 678.5,452.9 677.5,451.5 676.5,448.1 675.5,447.5 674.5,448.0 673.5,453.5 672.5,448.7 671.5,450.3 670.5,452.9 669.5,449.6 668.5,446.8 667.5,449.1 666.5,446.0 665.5,451.7 664.5,447.0 663.5,446.2 662.5,448.4 661.5,450.2 660.5,451.7 659.5,449.0 658.5,448.1 657.5,453.1 656.5,449.2 655.5,447.0 654.5,443.5 653.5,442.7 652.5,440.1 651.5,436.4 650.5,432.1 649.5,435.4 648.5,432.7 647.5,435.5 646.5,431.5 645.5,437.6 644.5,433.6 643.5,432.6 642.5,436.9 641.5,435.8 640.5,429.8 639.5,431.5 638.5,432.0 637.5,434.8 636.5,429.3 635.5,430.0 634.5,429.6 633.5,430.1 632.5,430.1 631.5,430.4 630.5,435.3 629.5,430.6 628.5,433.6 627.5,430.7 626.5,434.9 625.5,433.4 624.5,437.2 623.5,430.4 622.5,432.6 621.5,437.5 620.5,437.6 619.5,431.6 618.5,436.3 617.5,432.3 616.5,437.7 615.5,434.3 614.5,434.9 613.5,436.8 612.5,437.5 611.5,436.4 610.5,437.7 609.5,438.3 608.5,446.1 607.5,441.7 606.5,440.5 605.5,445.8 604.5,445.0 603.5,441.5 602.5,442.6 601.5,444.6 600.5,446.0 599.5,444.0 598.5,443.5 597.5,443.8 596.5,444.4 595.5,446.9 594.5,441.3 593.5,438.8 592.5,438.5 591.5,432.8 590.5,429.1 589.5,425.9 588.5,429.2 587.5,424.1 586.5,424.8 585.5,424.8 584.5,425.5 583.5,429.1 582.5,434.0 581.5,427.5 580.5,430.5 579.5,430.9 578.5,433.9 577.5,430.7 576.5,430.3 575.5,430.6 574.5,431.1 573.5,433.7 572.5,438.8 571.5,431.9 570.5,436.2 569.5,432.1 568.5,435.8 567.5,432.9 566.5,432.9 565.5,429.5 564.5,428.3"/></clipPath>
<filter id="bl" x="-20%" y="-50%" width="140%" height="200%"><feGaussianBlur stdDeviation="4"/></filter>
<filter id="bl3" x="-30%" y="-60%" width="160%" height="220%"><feGaussianBlur stdDeviation="7"/></filter>
<filter id="bl2" x="-20%" y="-50%" width="140%" height="200%"><feGaussianBlur stdDeviation="2.5"/></filter>
<filter id="stk" x="0" y="0" width="100%" height="100%" filterUnits="objectBoundingBox"><feTurbulence type="fractalNoise" baseFrequency="0.3 0.022" numOctaves="2" seed="5"/><feColorMatrix type="matrix" values="0 0 0 0 0.40  0 0 0 0 0.64  0 0 0 0 0.86  1.5 0 0 0 -0.60"/></filter>
<filter id="stw" x="0" y="0" width="100%" height="100%" filterUnits="objectBoundingBox"><feTurbulence type="fractalNoise" baseFrequency="0.4 0.035" numOctaves="2" seed="17"/><feColorMatrix type="matrix" values="0 0 0 0 1  0 0 0 0 1  0 0 0 0 1  1.5 0 0 0 -0.72"/></filter>
</defs>
<g clip-path="url(#wc)">
<rect x="560" y="295" width="340" height="175" fill="url(#wg)"/>
<rect x="831.5" y="330" width="70" height="70" fill="url(#wg2)"/>
<rect x="876" y="365" width="25" height="30" fill="#86b7de"/>
<polygon points="556,408 584,404 610,402 640,406 668,414 672,456 556,456" fill="#7daedb" opacity="0.5" filter="url(#bl3)"/>
<polygon points="556,378 600,372 650,380 676,392 680,456 556,456" fill="#a9cfe9" opacity="0.45" filter="url(#bl3)"/>
<polygon points="560,402 584,400 590,424 596,450 560,450" fill="#7fb0dc" filter="url(#bl2)"/>
<polygon points="590,372 600,352 640,326 690,304 700,318 672,340 640,362 610,384" fill="#f7eed8" opacity="0.7" filter="url(#bl)"/>
<g filter="url(#bl)" opacity="0.75">
<polygon points="640,352 700,338 760,328 830,338 830,350 760,342 700,352 640,368" fill="#f8efd6"/>
<polygon points="700,368 760,356 830,352 872,350 872,362 830,366 760,372 700,384" fill="#f6efda"/>
<polygon points="606,356 640,334 690,310 700,322 650,344 612,372" fill="#f8efd6"/>
<polygon points="640,340 700,322 770,326 828,340 828,346 770,334 700,332 640,350" fill="#dfeef5"/>
</g>
<polygon points="776,395 800,372 832,360 832,376 800,388 782,400" fill="#f1f2e6" filter="url(#bl2)"/>
<g mask="url(#wm)"><rect x="560" y="295" width="340" height="175" filter="url(#stk)"/></g>
<rect x="560" y="295" width="340" height="175" filter="url(#stw)" opacity="0.18"/>
</g>
<path d="M673.6 486.5 L810.4 411.3 L810.4 242.8 L673.6 316.8 Z" fill="none" stroke="#ff0000" stroke-width="1"/>
<line x1="258.50" y1="620.5" x2="258.50" y2="719.5" stroke="#d8d8d8" stroke-width="1" stroke-dasharray="2 2"/>
<line x1="442.50" y1="620.5" x2="442.50" y2="719.5" stroke="#d8d8d8" stroke-width="1" stroke-dasharray="2 2"/>
<line x1="627.50" y1="620.5" x2="627.50" y2="719.5" stroke="#d8d8d8" stroke-width="1" stroke-dasharray="2 2"/>
<line x1="811.50" y1="620.5" x2="811.50" y2="719.5" stroke="#d8d8d8" stroke-width="1" stroke-dasharray="2 2"/>
<line x1="73.5" y1="633.5" x2="996.5" y2="633.5" stroke="#d8d8d8" stroke-width="1" stroke-dasharray="2 2"/>
<line x1="73.5" y1="676.5" x2="996.5" y2="676.5" stroke="#d8d8d8" stroke-width="1" stroke-dasharray="2 2"/>
<path d="M73.50 719.5 v-9 M73.50 620.5 v9" stroke="#eeeeaa" stroke-width="1" fill="none"/>
<path d="M165.50 719.5 v-4.5 M165.50 620.5 v4.5" stroke="#eeeeaa" stroke-width="1" fill="none"/>
<path d="M258.50 719.5 v-9 M258.50 620.5 v9" stroke="#eeeeaa" stroke-width="1" fill="none"/>
<path d="M350.50 719.5 v-4.5 M350.50 620.5 v4.5" stroke="#eeeeaa" stroke-width="1" fill="none"/>
<path d="M442.50 719.5 v-9 M442.50 620.5 v9" stroke="#eeeeaa" stroke-width="1" fill="none"/>
<path d="M535.50 719.5 v-4.5 M535.50 620.5 v4.5" stroke="#eeeeaa" stroke-width="1" fill="none"/>
<path d="M627.50 719.5 v-9 M627.50 620.5 v9" stroke="#eeeeaa" stroke-width="1" fill="none"/>
<path d="M719.50 719.5 v-4.5 M719.50 620.5 v4.5" stroke="#eeeeaa" stroke-width="1" fill="none"/>
<path d="M811.50 719.5 v-9 M811.50 620.5 v9" stroke="#eeeeaa" stroke-width="1" fill="none"/>
<path d="M904.50 719.5 v-4.5 M904.50 620.5 v4.5" stroke="#eeeeaa" stroke-width="1" fill="none"/>
<path d="M996.50 719.5 v-9 M996.50 620.5 v9" stroke="#eeeeaa" stroke-width="1" fill="none"/>
<path d="M73.5 633.5 h9 M996.5 633.5 h-9" stroke="#eeeeaa" stroke-width="1" fill="none"/>
<path d="M73.5 676.5 h9 M996.5 676.5 h-9" stroke="#eeeeaa" stroke-width="1" fill="none"/>
<path d="M73.5 719.5 h9 M996.5 719.5 h-9" stroke="#eeeeaa" stroke-width="1" fill="none"/>
<rect x="73.5" y="620.5" width="923.0" height="99.0" fill="none" stroke="#eeeeaa" stroke-width="1"/>
<polyline points="221.2,697.9 230.4,687.6 239.6,686.2 248.9,690.6 258.1,687.9 267.3,683.2 276.6,688.5 285.8,694.7 295.0,689.1" fill="none" stroke="#ffff00" stroke-width="1"/>
<polyline points="322.7,684.1 331.9,686.8 341.2,691.7 350.4,683.2 359.6,686.8 368.9,690.9 378.1,687.6 387.3,689.7 396.6,683.2 405.8,683.2 415.0,695.8 424.2,680.3 433.5,687.4 442.7,689.7 451.9,676.8 461.2,674.5 470.4,673.0 479.6,674.5 488.9,676.8" fill="none" stroke="#ffff00" stroke-width="1"/>
<polyline points="516.5,663.3 525.8,668.6 535.0,678.6 544.2,663.6 553.5,660.4 562.7,651.9 571.9,646.9 581.2,641.9 590.4,644.9 599.6,648.1 608.8,666.5 618.1,668.3 627.3,662.7 636.5,672.4 645.8,668.0 655.0,664.2 664.2,687.6 673.5,671.5 682.7,678.0 691.9,681.5 701.1,673.3 710.4,682.7" fill="none" stroke="#ffff00" stroke-width="1"/>
<polyline points="738.1,685.6 747.3,683.2 756.5,692.6 765.8,689.1 775.0,683.2 784.2,685.0 793.4,692.0 802.7,697.3 811.9,686.8 821.1,685.3 830.4,691.5 839.6,683.5 848.8,682.1 858.1,719.0 867.3,665.7" fill="none" stroke="#ffff00" stroke-width="1"/>
<line x1="581.5" y1="620.5" x2="581.5" y2="719.5" stroke="#ff0000" stroke-width="1"/>
<text x="63.8" y="636.7" text-anchor="end">-80</text>
<text x="63.8" y="679.7" text-anchor="end">-100</text>
<text x="63.8" y="722.7" text-anchor="end">-120</text>
<text x="73.5" y="737.9" text-anchor="middle">20:01:20</text>
<text x="258.1" y="737.9" text-anchor="middle">20:01:40</text>
<text x="442.70000000000005" y="737.9" text-anchor="middle">20:02:00</text>
<text x="627.3000000000001" y="737.9" text-anchor="middle">20:02:20</text>
<text x="811.9000000000001" y="737.9" text-anchor="middle">20:02:40</text>
<text x="996.5" y="737.9" text-anchor="middle">20:03:00</text>
<text x="533.5" y="759.5" text-anchor="middle">Time (UTC)</text>
<text transform="translate(17,668.3) rotate(-90)" text-anchor="middle">Power (dBm)</text>
</svg>
</body></html>
